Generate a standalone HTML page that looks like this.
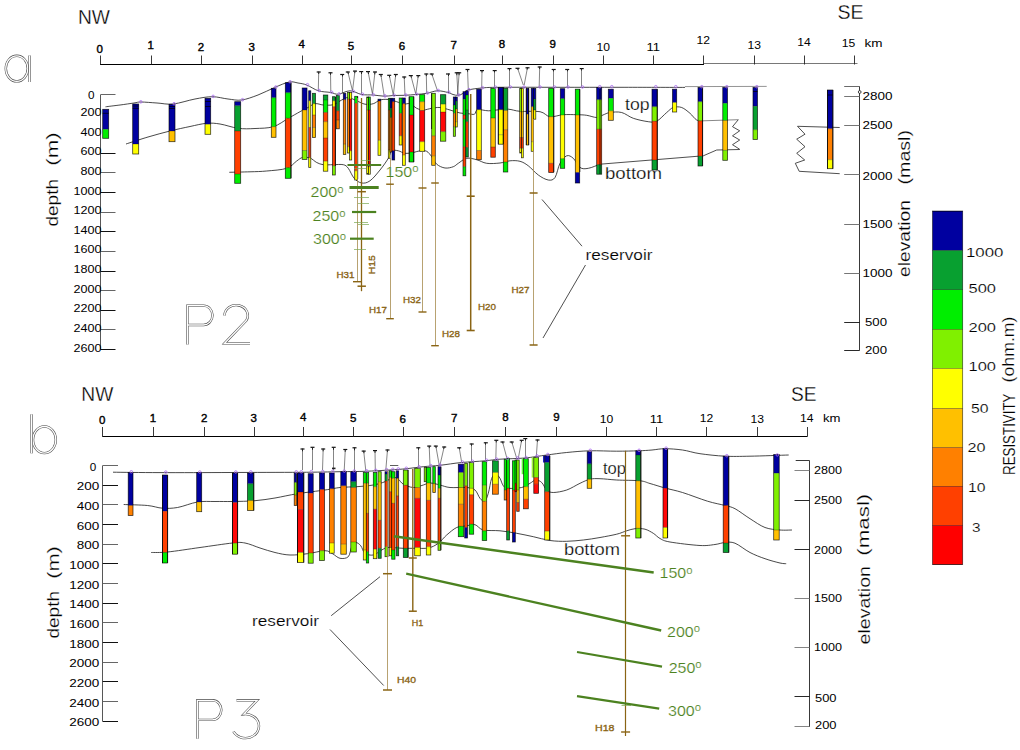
<!DOCTYPE html>
<html><head><meta charset="utf-8"><title>Resistivity cross-sections P2 and P3</title>
<style>
html,body{margin:0;padding:0;background:#fff;}
svg{display:block;font-family:"Liberation Sans",sans-serif;}
</style></head><body>
<svg width="1020" height="750" viewBox="0 0 1020 750">
<rect width="1020" height="750" fill="#fff"/>
<ellipse cx="16.8" cy="68.6" rx="11" ry="12.8" fill="none" stroke="#4a4a4a" stroke-width="2.4"/>
<ellipse cx="16.8" cy="68.6" rx="11" ry="12.8" fill="none" stroke="#fff" stroke-width="1.35"/>
<path d="M29.6 55.5V82" fill="none" stroke="#4a4a4a" stroke-width="2.4" stroke-linejoin="miter"/>
<path d="M29.6 55.5V82" fill="none" stroke="#fff" stroke-width="1.3499999999999999" stroke-linejoin="miter"/>
<text x="78.0" y="24.3" font-size="21" text-anchor="start" fill="#000" stroke="#fff" stroke-width="0.3" textLength="32.0" lengthAdjust="spacingAndGlyphs">NW</text>
<text x="837.5" y="19.2" font-size="21" text-anchor="start" fill="#000" stroke="#fff" stroke-width="0.3" textLength="26.0" lengthAdjust="spacingAndGlyphs">SE</text>
<line x1="100.0" y1="64.5" x2="704.0" y2="64.5" stroke="#000" stroke-width="1.1"/>
<line x1="704.0" y1="63.5" x2="857.5" y2="63.5" stroke="#555" stroke-width="0.8"/>
<line x1="100.5" y1="55.5" x2="100.5" y2="64.5" stroke="#222" stroke-width="0.9"/>
<text x="99.8" y="52.5" font-size="11.5" text-anchor="middle" fill="#000" stroke="#000" stroke-width="0.4">0</text>
<line x1="151.5" y1="55.5" x2="151.5" y2="64.5" stroke="#222" stroke-width="0.9"/>
<text x="150.8" y="49.0" font-size="11.5" text-anchor="middle" fill="#000" stroke="#000" stroke-width="0.4">1</text>
<line x1="201.5" y1="55.5" x2="201.5" y2="64.5" stroke="#222" stroke-width="0.9"/>
<text x="201.0" y="50.5" font-size="11.5" text-anchor="middle" fill="#000" stroke="#000" stroke-width="0.4">2</text>
<line x1="252.5" y1="55.5" x2="252.5" y2="64.5" stroke="#222" stroke-width="0.9"/>
<text x="251.8" y="50.5" font-size="11.5" text-anchor="middle" fill="#000" stroke="#000" stroke-width="0.4">3</text>
<line x1="302.5" y1="55.5" x2="302.5" y2="64.5" stroke="#222" stroke-width="0.9"/>
<text x="301.7" y="48.0" font-size="11.5" text-anchor="middle" fill="#000" stroke="#000" stroke-width="0.4">4</text>
<line x1="351.5" y1="55.5" x2="351.5" y2="64.5" stroke="#222" stroke-width="0.9"/>
<text x="351.0" y="50.0" font-size="11.5" text-anchor="middle" fill="#000" stroke="#000" stroke-width="0.4">5</text>
<line x1="402.5" y1="55.5" x2="402.5" y2="64.5" stroke="#222" stroke-width="0.9"/>
<text x="402.0" y="50.0" font-size="11.5" text-anchor="middle" fill="#000" stroke="#000" stroke-width="0.4">6</text>
<line x1="454.5" y1="55.5" x2="454.5" y2="64.5" stroke="#222" stroke-width="0.9"/>
<text x="453.7" y="49.0" font-size="11.5" text-anchor="middle" fill="#000" stroke="#000" stroke-width="0.4">7</text>
<line x1="502.5" y1="55.5" x2="502.5" y2="64.5" stroke="#222" stroke-width="0.9"/>
<text x="502.0" y="48.0" font-size="11.5" text-anchor="middle" fill="#000" stroke="#000" stroke-width="0.4">8</text>
<line x1="553.5" y1="55.5" x2="553.5" y2="64.5" stroke="#222" stroke-width="0.9"/>
<text x="552.8" y="48.0" font-size="11.5" text-anchor="middle" fill="#000" stroke="#000" stroke-width="0.4">9</text>
<line x1="603.5" y1="55.5" x2="603.5" y2="64.5" stroke="#222" stroke-width="0.9"/>
<text x="603.2" y="51.0" font-size="11.5" text-anchor="middle" fill="#000" textLength="13.5" lengthAdjust="spacingAndGlyphs">10</text>
<line x1="653.5" y1="55.5" x2="653.5" y2="64.5" stroke="#222" stroke-width="0.9"/>
<text x="653.2" y="51.0" font-size="11.5" text-anchor="middle" fill="#000" textLength="13.5" lengthAdjust="spacingAndGlyphs">11</text>
<line x1="703.5" y1="55.5" x2="703.5" y2="64.5" stroke="#222" stroke-width="0.9"/>
<text x="703.2" y="44.0" font-size="11.5" text-anchor="middle" fill="#000" textLength="13.5" lengthAdjust="spacingAndGlyphs">12</text>
<line x1="754.5" y1="55.5" x2="754.5" y2="64.5" stroke="#222" stroke-width="0.9"/>
<text x="754.2" y="49.2" font-size="11.5" text-anchor="middle" fill="#000" textLength="13.5" lengthAdjust="spacingAndGlyphs">13</text>
<line x1="804.5" y1="55.5" x2="804.5" y2="64.5" stroke="#222" stroke-width="0.9"/>
<text x="804.0" y="46.3" font-size="11.5" text-anchor="middle" fill="#000" textLength="13.5" lengthAdjust="spacingAndGlyphs">14</text>
<line x1="854.5" y1="55.5" x2="854.5" y2="64.5" stroke="#222" stroke-width="0.9"/>
<text x="848.5" y="46.5" font-size="11.5" text-anchor="middle" fill="#000" textLength="13.5" lengthAdjust="spacingAndGlyphs">15</text>
<text x="864.5" y="46.5" font-size="11.5" text-anchor="start" fill="#000" textLength="18.0" lengthAdjust="spacingAndGlyphs">km</text>
<line x1="100.5" y1="94.5" x2="100.5" y2="349.8" stroke="#444" stroke-width="0.9"/>
<line x1="100.7" y1="94.5" x2="115.5" y2="94.5" stroke="#666" stroke-width="1.0"/>
<text x="94.5" y="98.7" font-size="11.7" text-anchor="end" fill="#000">0</text>
<text x="101.5" y="116.0" font-size="11.7" text-anchor="end" fill="#000" textLength="21.0" lengthAdjust="spacingAndGlyphs">200</text>
<text x="101.5" y="135.6" font-size="11.7" text-anchor="end" fill="#000" textLength="21.0" lengthAdjust="spacingAndGlyphs">400</text>
<line x1="100.7" y1="153.5" x2="115.5" y2="153.5" stroke="#111" stroke-width="1.0"/>
<text x="101.5" y="155.3" font-size="11.7" text-anchor="end" fill="#000" textLength="21.0" lengthAdjust="spacingAndGlyphs">600</text>
<line x1="100.7" y1="172.5" x2="115.5" y2="172.5" stroke="#666" stroke-width="1.0"/>
<text x="101.5" y="174.9" font-size="11.7" text-anchor="end" fill="#000" textLength="21.0" lengthAdjust="spacingAndGlyphs">800</text>
<line x1="100.7" y1="192.5" x2="115.5" y2="192.5" stroke="#111" stroke-width="1.0"/>
<text x="101.5" y="194.5" font-size="11.7" text-anchor="end" fill="#000" textLength="28.0" lengthAdjust="spacingAndGlyphs">1000</text>
<line x1="100.7" y1="212.5" x2="115.5" y2="212.5" stroke="#666" stroke-width="1.0"/>
<text x="101.5" y="214.1" font-size="11.7" text-anchor="end" fill="#000" textLength="28.0" lengthAdjust="spacingAndGlyphs">1200</text>
<line x1="100.7" y1="231.5" x2="115.5" y2="231.5" stroke="#111" stroke-width="1.0"/>
<text x="101.5" y="233.7" font-size="11.7" text-anchor="end" fill="#000" textLength="28.0" lengthAdjust="spacingAndGlyphs">1400</text>
<line x1="100.7" y1="251.5" x2="115.5" y2="251.5" stroke="#666" stroke-width="1.0"/>
<text x="101.5" y="253.4" font-size="11.7" text-anchor="end" fill="#000" textLength="28.0" lengthAdjust="spacingAndGlyphs">1600</text>
<line x1="100.7" y1="271.5" x2="115.5" y2="271.5" stroke="#111" stroke-width="1.0"/>
<text x="101.5" y="273.0" font-size="11.7" text-anchor="end" fill="#000" textLength="28.0" lengthAdjust="spacingAndGlyphs">1800</text>
<line x1="100.7" y1="290.5" x2="115.5" y2="290.5" stroke="#666" stroke-width="1.0"/>
<text x="101.5" y="292.6" font-size="11.7" text-anchor="end" fill="#000" textLength="28.0" lengthAdjust="spacingAndGlyphs">2000</text>
<line x1="100.7" y1="310.5" x2="115.5" y2="310.5" stroke="#111" stroke-width="1.0"/>
<text x="101.5" y="312.2" font-size="11.7" text-anchor="end" fill="#000" textLength="28.0" lengthAdjust="spacingAndGlyphs">2200</text>
<line x1="100.7" y1="329.5" x2="115.5" y2="329.5" stroke="#666" stroke-width="1.0"/>
<text x="101.5" y="331.8" font-size="11.7" text-anchor="end" fill="#000" textLength="28.0" lengthAdjust="spacingAndGlyphs">2400</text>
<line x1="100.7" y1="349.5" x2="115.5" y2="349.5" stroke="#111" stroke-width="1.0"/>
<text x="101.5" y="351.5" font-size="11.7" text-anchor="end" fill="#000" textLength="28.0" lengthAdjust="spacingAndGlyphs">2600</text>
<text x="58.3" y="226.5" font-size="17" text-anchor="start" fill="#000" stroke="#fff" stroke-width="0.22" textLength="47.5" lengthAdjust="spacingAndGlyphs" transform="rotate(-90 58.3 226.5)">depth</text>
<text x="58.3" y="165.8" font-size="17" text-anchor="start" fill="#000" stroke="#fff" stroke-width="0.22" textLength="33.5" lengthAdjust="spacingAndGlyphs" transform="rotate(-90 58.3 165.8)">(m)</text>
<line x1="859.5" y1="86.5" x2="859.5" y2="350.3" stroke="#222" stroke-width="0.9"/>
<line x1="844.2" y1="86.5" x2="859.7" y2="86.5" stroke="#444" stroke-width="0.8"/>
<line x1="844.2" y1="96.5" x2="859.7" y2="96.5" stroke="#666" stroke-width="0.9"/>
<text x="862.5" y="100.0" font-size="11.5" text-anchor="start" fill="#000" textLength="30.0" lengthAdjust="spacingAndGlyphs">2800</text>
<line x1="844.2" y1="125.5" x2="859.7" y2="125.5" stroke="#666" stroke-width="0.9"/>
<text x="862.5" y="129.1" font-size="11.5" text-anchor="start" fill="#000" textLength="30.0" lengthAdjust="spacingAndGlyphs">2500</text>
<line x1="844.2" y1="174.5" x2="859.7" y2="174.5" stroke="#666" stroke-width="0.9"/>
<text x="862.5" y="179.5" font-size="11.5" text-anchor="start" fill="#000" textLength="30.0" lengthAdjust="spacingAndGlyphs">2000</text>
<line x1="844.2" y1="224.5" x2="859.7" y2="224.5" stroke="#666" stroke-width="0.9"/>
<text x="862.5" y="227.8" font-size="11.5" text-anchor="start" fill="#000" textLength="30.0" lengthAdjust="spacingAndGlyphs">1500</text>
<line x1="844.2" y1="273.5" x2="859.7" y2="273.5" stroke="#666" stroke-width="0.9"/>
<text x="862.5" y="277.3" font-size="11.5" text-anchor="start" fill="#000" textLength="30.0" lengthAdjust="spacingAndGlyphs">1000</text>
<line x1="844.2" y1="322.5" x2="859.7" y2="322.5" stroke="#111" stroke-width="0.9"/>
<text x="865.0" y="326.3" font-size="11.5" text-anchor="start" fill="#000" textLength="22.0" lengthAdjust="spacingAndGlyphs">500</text>
<line x1="844.2" y1="350.5" x2="859.7" y2="350.5" stroke="#111" stroke-width="0.9"/>
<text x="865.0" y="353.8" font-size="11.5" text-anchor="start" fill="#000" textLength="22.0" lengthAdjust="spacingAndGlyphs">200</text>
<circle cx="859.7" cy="92" r="1.4" fill="#fff" stroke="#000" stroke-width="0.7"/>
<text x="910.0" y="277.0" font-size="17" text-anchor="start" fill="#000" stroke="#fff" stroke-width="0.22" textLength="77.0" lengthAdjust="spacingAndGlyphs" transform="rotate(-90 910.0 277.0)">elevation</text>
<text x="910.0" y="184.5" font-size="17" text-anchor="start" fill="#000" stroke="#fff" stroke-width="0.22" textLength="54.5" lengthAdjust="spacingAndGlyphs" transform="rotate(-90 910.0 184.5)">(masl)</text>
<path d="M105.5 106.8C107.9 106.5 115.2 105.6 120.0 105.0C124.8 104.4 130.5 103.5 134.0 103.0C137.5 102.5 137.2 102.0 141.0 102.0C144.8 102.0 151.6 102.7 157.0 103.0C162.4 103.3 167.0 104.7 173.3 104.0C179.6 103.3 188.5 100.2 195.0 99.0C201.5 97.8 206.8 96.7 212.3 96.7C217.8 96.7 223.1 98.5 228.0 99.0C232.9 99.5 236.7 100.7 241.7 100.0C246.7 99.3 252.4 97.1 258.0 95.0C263.6 92.9 269.8 89.5 275.0 87.3C280.2 85.1 285.5 82.7 289.3 82.0C293.1 81.3 295.1 82.5 298.0 83.0C300.9 83.5 303.3 83.7 306.7 85.0C310.1 86.3 314.3 89.5 318.3 90.8C322.3 92.0 327.5 91.9 330.8 92.5C334.1 93.1 335.1 94.5 338.3 94.2C341.5 93.9 346.1 90.8 350.0 90.8C353.9 90.8 357.8 93.8 361.7 94.5C365.6 95.2 369.6 94.7 373.3 95.0C377.1 95.3 380.9 96.1 384.2 96.2C387.5 96.3 389.8 95.7 393.3 95.5C396.8 95.3 401.2 95.5 405.0 95.3C408.8 95.1 412.2 94.8 415.8 94.5C419.4 94.2 423.1 93.9 426.7 93.3C430.3 92.7 433.9 90.9 437.5 90.8C441.1 90.7 445.4 91.9 448.0 92.5C450.6 93.1 451.3 94.0 453.0 94.5C454.7 95.0 456.6 95.5 458.3 95.3C460.0 95.1 461.6 94.2 463.3 93.3C465.0 92.4 465.2 90.9 468.3 90.0C471.4 89.1 476.4 88.5 481.7 88.0C487.0 87.5 486.9 87.4 500.0 87.3C513.0 87.2 540.0 87.3 560.0 87.3C580.0 87.3 599.2 87.3 620.0 87.3C640.8 87.3 674.2 87.4 685.0 87.4" fill="none" stroke="#1a1a1a" stroke-width="0.8"/>
<line x1="685.0" y1="86.6" x2="766.7" y2="86.4" stroke="#666" stroke-width="0.7"/>
<path d="M126.0 144.0C129.7 142.8 140.7 139.2 148.0 137.0C155.3 134.8 163.0 132.8 170.0 131.0C177.0 129.2 183.9 127.8 190.0 126.5C196.1 125.2 201.7 123.7 206.7 123.3C211.7 122.9 214.7 123.2 220.0 124.0C225.3 124.8 232.5 127.6 238.3 128.3C244.1 129.1 249.2 128.8 255.0 128.5C260.8 128.2 267.8 128.4 273.3 126.7C278.9 125.0 283.9 120.8 288.3 118.3C292.8 115.8 296.9 113.4 300.0 111.7C303.1 110.0 304.2 109.6 306.7 108.3C309.2 107.0 312.2 104.2 315.0 103.7C317.8 103.2 320.2 104.8 323.3 105.0C326.4 105.2 330.2 105.5 333.3 104.7C336.4 103.9 339.2 101.2 341.7 100.0C344.2 98.8 345.8 97.4 348.3 97.5C350.8 97.6 353.9 99.7 356.7 100.8C359.5 101.9 362.2 103.7 365.0 104.2C367.8 104.7 370.8 104.4 373.3 103.7C375.8 103.0 377.6 100.7 380.0 100.0C382.4 99.3 385.2 99.2 388.0 99.5C390.8 99.8 394.1 100.9 396.7 101.7C399.2 102.5 401.1 103.9 403.3 104.2C405.5 104.5 407.8 103.0 410.0 103.7C412.2 104.4 414.5 107.2 416.7 108.3C418.9 109.3 420.8 110.0 423.3 110.0C425.8 110.0 428.9 108.7 431.7 108.3C434.5 107.9 436.9 107.2 440.0 107.5C443.1 107.8 446.7 109.1 450.0 110.0C453.3 110.9 456.9 112.4 460.0 113.0C463.1 113.6 465.9 113.5 468.3 113.7C470.7 113.9 473.0 114.9 474.5 114.2C476.0 113.5 475.2 110.3 477.5 109.7C479.8 109.1 485.1 110.8 488.3 110.8C491.5 110.8 493.4 110.3 496.7 110.0C500.0 109.7 504.4 109.0 508.3 109.2C512.2 109.4 514.7 110.9 520.0 111.3C525.3 111.7 535.0 110.8 540.0 111.7C545.0 112.6 546.1 116.2 550.0 116.7C553.9 117.2 558.8 115.0 563.3 114.7C567.8 114.4 572.8 114.6 576.7 114.7C580.6 114.8 583.4 114.8 586.7 115.3C590.0 115.8 594.0 117.5 596.7 117.5C599.4 117.5 600.8 115.8 603.0 115.0C605.2 114.2 606.9 112.9 610.0 112.5C613.1 112.1 617.8 111.5 621.7 112.5C625.6 113.5 628.9 116.8 633.3 118.3C637.7 119.8 644.4 121.2 648.3 121.7C652.2 122.2 653.6 122.7 656.7 121.2C659.8 119.7 663.9 114.8 666.7 112.5C669.5 110.2 670.8 108.3 673.3 107.5C675.8 106.7 678.9 106.5 681.7 107.5C684.5 108.5 687.5 111.2 690.0 113.3C692.5 115.4 694.5 118.8 696.7 120.0C698.9 121.2 702.2 120.7 703.3 120.8" fill="none" stroke="#1a1a1a" stroke-width="0.8"/>
<line x1="703.3" y1="120.8" x2="738.3" y2="119.7" stroke="#555" stroke-width="0.7"/>
<path d="M229.3 172.3C232.8 172.2 243.8 172.0 250.0 171.8C256.2 171.6 260.6 171.6 266.7 171.0C272.8 170.4 281.7 170.0 286.7 168.3C291.7 166.6 294.1 162.8 296.7 161.0C299.3 159.2 300.3 158.0 302.5 157.5C304.7 157.0 307.6 157.2 310.0 158.0C312.4 158.8 314.5 161.4 316.7 162.5C318.9 163.6 320.6 164.3 323.3 164.7C326.0 165.1 329.7 164.7 333.0 164.7C336.3 164.7 340.8 164.1 343.3 164.7C345.9 165.3 346.5 166.0 348.3 168.3C350.1 170.6 352.0 175.9 354.2 178.3C356.4 180.8 359.1 182.6 361.7 183.0C364.3 183.4 366.9 183.0 370.0 180.8C373.1 178.6 376.9 173.8 380.0 170.0C383.1 166.2 386.4 161.5 388.3 158.3C390.2 155.1 390.0 152.1 391.7 150.8C393.4 149.6 396.1 150.4 398.3 150.8C400.5 151.2 402.5 153.0 405.0 153.3C407.5 153.6 410.8 152.9 413.3 152.5C415.8 152.1 417.8 151.0 420.0 150.8C422.2 150.6 424.8 150.3 426.7 151.3C428.6 152.3 430.0 154.5 431.7 156.7C433.4 158.8 434.5 162.3 436.7 164.2C438.9 166.1 442.2 167.6 445.0 168.0C447.8 168.4 451.1 167.5 453.3 166.7C455.5 165.9 456.1 164.7 458.3 163.3C460.5 161.9 463.6 158.9 466.7 158.3C469.8 157.7 473.4 158.9 476.7 159.7C480.0 160.5 482.8 162.8 486.7 163.3C490.6 163.9 496.1 163.4 500.0 163.0C503.9 162.6 506.7 161.1 510.0 160.8C513.3 160.5 517.0 160.5 520.0 161.3C523.0 162.1 525.2 163.5 528.3 165.8C531.3 168.1 535.0 172.6 538.3 175.0C541.6 177.4 545.5 179.6 548.3 180.0C551.1 180.4 553.0 180.3 555.0 177.5C557.0 174.7 558.0 166.9 560.0 163.3C562.0 159.7 564.5 156.6 566.7 155.8C568.9 155.0 571.1 156.4 573.3 158.3C575.5 160.2 577.5 165.8 580.0 167.5C582.5 169.2 585.0 168.9 588.3 168.3C591.6 167.8 598.0 164.9 600.0 164.2" fill="none" stroke="#1a1a1a" stroke-width="0.8"/>
<path d="M600 164.2L703.3 155.8L716.7 150L739.7 149.5" fill="none" stroke="#222" stroke-width="0.8"/>
<path d="M738.3 119.7L732.5 126.7L739.7 130.8L732.5 135.8L739.7 140L732.5 144.7L739.7 149.3" fill="none" stroke="#222" stroke-width="0.8"/>
<path d="M839.7 127.5L797.5 126.3L805 134.2L796.7 139.2L805 146.7L796.7 153.3L804.7 160L795.3 163.3L799.2 171.3L839.7 173.7" fill="none" stroke="#222" stroke-width="0.8"/>
<rect x="102.7" y="109.3" width="6.0" height="20.0" fill="#0000a0"/><rect x="102.7" y="129.3" width="6.0" height="9.0" fill="#00ee00"/><rect x="102.7" y="109.3" width="6.0" height="29.0" fill="none" stroke="#000" stroke-opacity="0.8" stroke-width="0.75"/><line x1="102.7" y1="129.3" x2="108.7" y2="129.3" stroke="#000" stroke-opacity="0.55" stroke-width="0.5"/>
<rect x="132.7" y="104.0" width="6.0" height="40.0" fill="#0000a0"/><rect x="132.7" y="144.0" width="6.0" height="10.0" fill="#ffff00"/><rect x="132.7" y="104.0" width="6.0" height="50.0" fill="none" stroke="#000" stroke-opacity="0.8" stroke-width="0.75"/><line x1="132.7" y1="144.0" x2="138.7" y2="144.0" stroke="#000" stroke-opacity="0.55" stroke-width="0.5"/>
<rect x="169.0" y="104.3" width="6.0" height="26.7" fill="#0000a0"/><rect x="169.0" y="131.0" width="6.0" height="10.7" fill="#ffc000"/><rect x="169.0" y="104.3" width="6.0" height="37.4" fill="none" stroke="#000" stroke-opacity="0.8" stroke-width="0.75"/><line x1="169.0" y1="131.0" x2="175.0" y2="131.0" stroke="#000" stroke-opacity="0.55" stroke-width="0.5"/>
<rect x="205.0" y="98.3" width="5.7" height="26.0" fill="#0000a0"/><rect x="205.0" y="124.3" width="5.7" height="10.0" fill="#ffff00"/><rect x="205.0" y="98.3" width="5.7" height="36.0" fill="none" stroke="#000" stroke-opacity="0.8" stroke-width="0.75"/><line x1="205.0" y1="124.3" x2="210.7" y2="124.3" stroke="#000" stroke-opacity="0.55" stroke-width="0.5"/>
<rect x="234.7" y="101.7" width="6.0" height="4.0" fill="#0000a0"/><rect x="234.7" y="105.7" width="6.0" height="25.3" fill="#08a030"/><rect x="234.7" y="131.0" width="6.0" height="43.0" fill="#ff4000"/><rect x="234.7" y="174.0" width="6.0" height="9.3" fill="#00ee00"/><rect x="234.7" y="101.7" width="6.0" height="81.6" fill="none" stroke="#000" stroke-opacity="0.8" stroke-width="0.75"/><line x1="234.7" y1="105.7" x2="240.7" y2="105.7" stroke="#000" stroke-opacity="0.55" stroke-width="0.5"/><line x1="234.7" y1="131.0" x2="240.7" y2="131.0" stroke="#000" stroke-opacity="0.55" stroke-width="0.5"/><line x1="234.7" y1="174.0" x2="240.7" y2="174.0" stroke="#000" stroke-opacity="0.55" stroke-width="0.5"/>
<rect x="271.3" y="88.3" width="4.7" height="9.4" fill="#0000a0"/><rect x="271.3" y="97.7" width="4.7" height="29.0" fill="#00ee00"/><rect x="271.3" y="126.7" width="4.7" height="10.6" fill="#ffc000"/><rect x="271.3" y="88.3" width="4.7" height="49.0" fill="none" stroke="#000" stroke-opacity="0.8" stroke-width="0.75"/><line x1="271.3" y1="97.7" x2="276.0" y2="97.7" stroke="#000" stroke-opacity="0.55" stroke-width="0.5"/><line x1="271.3" y1="126.7" x2="276.0" y2="126.7" stroke="#000" stroke-opacity="0.55" stroke-width="0.5"/>
<rect x="285.3" y="82.7" width="5.7" height="10.0" fill="#0000a0"/><rect x="285.3" y="92.7" width="5.7" height="25.6" fill="#00ee00"/><rect x="285.3" y="118.3" width="5.7" height="49.4" fill="#ff4000"/><rect x="285.3" y="167.7" width="5.7" height="10.6" fill="#00ee00"/><rect x="285.3" y="82.7" width="5.7" height="95.6" fill="none" stroke="#000" stroke-opacity="0.8" stroke-width="0.75"/><line x1="285.3" y1="92.7" x2="291.0" y2="92.7" stroke="#000" stroke-opacity="0.55" stroke-width="0.5"/><line x1="285.3" y1="118.3" x2="291.0" y2="118.3" stroke="#000" stroke-opacity="0.55" stroke-width="0.5"/><line x1="285.3" y1="167.7" x2="291.0" y2="167.7" stroke="#000" stroke-opacity="0.55" stroke-width="0.5"/>
<rect x="302.2" y="88.0" width="4.8" height="22.0" fill="#0000a0"/><rect x="302.2" y="110.0" width="4.8" height="40.5" fill="#ffc000"/><rect x="302.2" y="150.5" width="4.8" height="9.0" fill="#80f000"/><rect x="302.2" y="88.0" width="4.8" height="71.5" fill="none" stroke="#000" stroke-opacity="0.8" stroke-width="0.75"/><line x1="302.2" y1="110.0" x2="307.0" y2="110.0" stroke="#000" stroke-opacity="0.55" stroke-width="0.5"/><line x1="302.2" y1="150.5" x2="307.0" y2="150.5" stroke="#000" stroke-opacity="0.55" stroke-width="0.5"/>
<rect x="308.7" y="90.8" width="2.1" height="10.0" fill="#0000a0"/><rect x="308.7" y="100.8" width="2.1" height="26.7" fill="#ffff00"/><rect x="308.7" y="127.5" width="2.1" height="30.0" fill="#ff4000"/><rect x="308.7" y="157.5" width="2.1" height="10.0" fill="#ffff00"/><rect x="308.7" y="90.8" width="2.1" height="76.7" fill="none" stroke="#000" stroke-opacity="0.8" stroke-width="0.75"/><line x1="308.7" y1="100.8" x2="310.8" y2="100.8" stroke="#000" stroke-opacity="0.55" stroke-width="0.5"/><line x1="308.7" y1="127.5" x2="310.8" y2="127.5" stroke="#000" stroke-opacity="0.55" stroke-width="0.5"/><line x1="308.7" y1="157.5" x2="310.8" y2="157.5" stroke="#000" stroke-opacity="0.55" stroke-width="0.5"/>
<rect x="312.5" y="93.3" width="3.0" height="10.4" fill="#08a030"/><rect x="312.5" y="103.7" width="3.0" height="11.3" fill="#ffff00"/><rect x="312.5" y="115.0" width="3.0" height="12.5" fill="#ff8000"/><rect x="312.5" y="127.5" width="3.0" height="10.0" fill="#ffc000"/><rect x="312.5" y="93.3" width="3.0" height="44.2" fill="none" stroke="#000" stroke-opacity="0.8" stroke-width="0.75"/><line x1="312.5" y1="103.7" x2="315.5" y2="103.7" stroke="#000" stroke-opacity="0.55" stroke-width="0.5"/><line x1="312.5" y1="115.0" x2="315.5" y2="115.0" stroke="#000" stroke-opacity="0.55" stroke-width="0.5"/><line x1="312.5" y1="127.5" x2="315.5" y2="127.5" stroke="#000" stroke-opacity="0.55" stroke-width="0.5"/>
<rect x="323.3" y="95.0" width="4.5" height="5.0" fill="#08a030"/><rect x="323.3" y="100.0" width="4.5" height="12.5" fill="#00ee00"/><rect x="323.3" y="112.5" width="4.5" height="9.2" fill="#ff4000"/><rect x="323.3" y="121.7" width="4.5" height="16.3" fill="#ffc000"/><rect x="323.3" y="138.0" width="4.5" height="23.2" fill="#ff4000"/><rect x="323.3" y="161.2" width="4.5" height="10.0" fill="#ffff00"/><rect x="323.3" y="95.0" width="4.5" height="76.2" fill="none" stroke="#000" stroke-opacity="0.8" stroke-width="0.75"/><line x1="323.3" y1="100.0" x2="327.8" y2="100.0" stroke="#000" stroke-opacity="0.55" stroke-width="0.5"/><line x1="323.3" y1="112.5" x2="327.8" y2="112.5" stroke="#000" stroke-opacity="0.55" stroke-width="0.5"/><line x1="323.3" y1="121.7" x2="327.8" y2="121.7" stroke="#000" stroke-opacity="0.55" stroke-width="0.5"/><line x1="323.3" y1="138.0" x2="327.8" y2="138.0" stroke="#000" stroke-opacity="0.55" stroke-width="0.5"/><line x1="323.3" y1="161.2" x2="327.8" y2="161.2" stroke="#000" stroke-opacity="0.55" stroke-width="0.5"/>
<rect x="332.5" y="96.7" width="2.8" height="4.1" fill="#08a030"/><rect x="332.5" y="100.8" width="2.8" height="5.9" fill="#ffff00"/><rect x="332.5" y="106.7" width="2.8" height="59.1" fill="#ff4000"/><rect x="332.5" y="165.8" width="2.8" height="9.2" fill="#80f000"/><rect x="332.5" y="96.7" width="2.8" height="78.3" fill="none" stroke="#000" stroke-opacity="0.8" stroke-width="0.75"/><line x1="332.5" y1="100.8" x2="335.3" y2="100.8" stroke="#000" stroke-opacity="0.55" stroke-width="0.5"/><line x1="332.5" y1="106.7" x2="335.3" y2="106.7" stroke="#000" stroke-opacity="0.55" stroke-width="0.5"/><line x1="332.5" y1="165.8" x2="335.3" y2="165.8" stroke="#000" stroke-opacity="0.55" stroke-width="0.5"/>
<rect x="336.3" y="95.5" width="3.0" height="15.3" fill="#08a030"/><rect x="336.3" y="110.8" width="3.0" height="9.2" fill="#ff4000"/><rect x="336.3" y="120.0" width="3.0" height="8.8" fill="#ff8000"/><rect x="336.3" y="95.5" width="3.0" height="33.3" fill="none" stroke="#000" stroke-opacity="0.8" stroke-width="0.75"/><line x1="336.3" y1="110.8" x2="339.3" y2="110.8" stroke="#000" stroke-opacity="0.55" stroke-width="0.5"/><line x1="336.3" y1="120.0" x2="339.3" y2="120.0" stroke="#000" stroke-opacity="0.55" stroke-width="0.5"/>
<rect x="343.3" y="93.3" width="2.5" height="6.4" fill="#0000a0"/><rect x="343.3" y="99.7" width="2.5" height="44.5" fill="#ff8000"/><rect x="343.3" y="144.2" width="2.5" height="10.3" fill="#ffc000"/><rect x="343.3" y="93.3" width="2.5" height="61.2" fill="none" stroke="#000" stroke-opacity="0.8" stroke-width="0.75"/><line x1="343.3" y1="99.7" x2="345.8" y2="99.7" stroke="#000" stroke-opacity="0.55" stroke-width="0.5"/><line x1="343.3" y1="144.2" x2="345.8" y2="144.2" stroke="#000" stroke-opacity="0.55" stroke-width="0.5"/>
<rect x="347.5" y="92.5" width="2.1" height="6.5" fill="#80f000"/><rect x="347.5" y="99.0" width="2.1" height="47.7" fill="#ff8000"/><rect x="347.5" y="146.7" width="2.1" height="6.3" fill="#ffff00"/><rect x="347.5" y="92.5" width="2.1" height="60.5" fill="none" stroke="#000" stroke-opacity="0.8" stroke-width="0.75"/><line x1="347.5" y1="99.0" x2="349.6" y2="99.0" stroke="#000" stroke-opacity="0.55" stroke-width="0.5"/><line x1="347.5" y1="146.7" x2="349.6" y2="146.7" stroke="#000" stroke-opacity="0.55" stroke-width="0.5"/>
<rect x="349.6" y="92.5" width="2.1" height="6.5" fill="#ffff00"/><rect x="349.6" y="99.0" width="2.1" height="51.8" fill="#ff0808"/><rect x="349.6" y="150.8" width="2.1" height="9.2" fill="#ffff00"/><rect x="349.6" y="92.5" width="2.1" height="67.5" fill="none" stroke="#000" stroke-opacity="0.8" stroke-width="0.75"/><line x1="349.6" y1="99.0" x2="351.7" y2="99.0" stroke="#000" stroke-opacity="0.55" stroke-width="0.5"/><line x1="349.6" y1="150.8" x2="351.7" y2="150.8" stroke="#000" stroke-opacity="0.55" stroke-width="0.5"/>
<rect x="354.7" y="96.3" width="2.8" height="7.0" fill="#00ee00"/><rect x="354.7" y="103.3" width="2.8" height="67.5" fill="#ff4000"/><rect x="354.7" y="170.8" width="2.8" height="9.2" fill="#ffff00"/><rect x="354.7" y="96.3" width="2.8" height="83.7" fill="none" stroke="#000" stroke-opacity="0.8" stroke-width="0.75"/><line x1="354.7" y1="103.3" x2="357.5" y2="103.3" stroke="#000" stroke-opacity="0.55" stroke-width="0.5"/><line x1="354.7" y1="170.8" x2="357.5" y2="170.8" stroke="#000" stroke-opacity="0.55" stroke-width="0.5"/>
<rect x="366.7" y="97.0" width="1.8" height="13.0" fill="#80f000"/><rect x="366.7" y="110.0" width="1.8" height="56.7" fill="#ffc000"/><rect x="366.7" y="166.7" width="1.8" height="7.5" fill="#ffff00"/><rect x="366.7" y="97.0" width="1.8" height="77.2" fill="none" stroke="#000" stroke-opacity="0.8" stroke-width="0.75"/><line x1="366.7" y1="110.0" x2="368.5" y2="110.0" stroke="#000" stroke-opacity="0.55" stroke-width="0.5"/><line x1="366.7" y1="166.7" x2="368.5" y2="166.7" stroke="#000" stroke-opacity="0.55" stroke-width="0.5"/>
<rect x="368.5" y="97.0" width="1.8" height="13.0" fill="#00ee00"/><rect x="368.5" y="110.0" width="1.8" height="56.7" fill="#ff0808"/><rect x="368.5" y="166.7" width="1.8" height="7.5" fill="#ffff00"/><rect x="368.5" y="97.0" width="1.8" height="77.2" fill="none" stroke="#000" stroke-opacity="0.8" stroke-width="0.75"/><line x1="368.5" y1="110.0" x2="370.3" y2="110.0" stroke="#000" stroke-opacity="0.55" stroke-width="0.5"/><line x1="368.5" y1="166.7" x2="370.3" y2="166.7" stroke="#000" stroke-opacity="0.55" stroke-width="0.5"/>
<rect x="378.0" y="99.2" width="2.8" height="1.8" fill="#0000a0"/><rect x="378.0" y="101.0" width="2.8" height="39.3" fill="#ff8000"/><rect x="378.0" y="140.3" width="2.8" height="15.0" fill="#ffff00"/><rect x="378.0" y="99.2" width="2.8" height="56.1" fill="none" stroke="#000" stroke-opacity="0.8" stroke-width="0.75"/><line x1="378.0" y1="101.0" x2="380.8" y2="101.0" stroke="#000" stroke-opacity="0.55" stroke-width="0.5"/><line x1="378.0" y1="140.3" x2="380.8" y2="140.3" stroke="#000" stroke-opacity="0.55" stroke-width="0.5"/>
<rect x="388.3" y="98.3" width="1.7" height="11.7" fill="#00ee00"/><rect x="388.3" y="110.0" width="1.7" height="40.0" fill="#ff8000"/><rect x="388.3" y="150.0" width="1.7" height="8.3" fill="#ffff00"/><rect x="388.3" y="98.3" width="1.7" height="60.0" fill="none" stroke="#000" stroke-opacity="0.8" stroke-width="0.75"/><line x1="388.3" y1="110.0" x2="390.0" y2="110.0" stroke="#000" stroke-opacity="0.55" stroke-width="0.5"/><line x1="388.3" y1="150.0" x2="390.0" y2="150.0" stroke="#000" stroke-opacity="0.55" stroke-width="0.5"/>
<rect x="390.0" y="98.3" width="2.0" height="10.0" fill="#0000a0"/><rect x="390.0" y="108.3" width="2.0" height="9.2" fill="#08a030"/><rect x="390.0" y="117.5" width="2.0" height="34.5" fill="#ff8000"/><rect x="390.0" y="98.3" width="2.0" height="53.7" fill="none" stroke="#000" stroke-opacity="0.8" stroke-width="0.75"/><line x1="390.0" y1="108.3" x2="392.0" y2="108.3" stroke="#000" stroke-opacity="0.55" stroke-width="0.5"/><line x1="390.0" y1="117.5" x2="392.0" y2="117.5" stroke="#000" stroke-opacity="0.55" stroke-width="0.5"/>
<rect x="392.0" y="98.3" width="2.7" height="3.4" fill="#0000a0"/><rect x="392.0" y="101.7" width="2.7" height="49.1" fill="#ff4000"/><rect x="392.0" y="150.8" width="2.7" height="9.2" fill="#0000a0"/><rect x="392.0" y="98.3" width="2.7" height="61.7" fill="none" stroke="#000" stroke-opacity="0.8" stroke-width="0.75"/><line x1="392.0" y1="101.7" x2="394.7" y2="101.7" stroke="#000" stroke-opacity="0.55" stroke-width="0.5"/><line x1="392.0" y1="150.8" x2="394.7" y2="150.8" stroke="#000" stroke-opacity="0.55" stroke-width="0.5"/>
<rect x="399.2" y="98.0" width="2.8" height="15.3" fill="#00ee00"/><rect x="399.2" y="113.3" width="2.8" height="22.5" fill="#ff4000"/><rect x="399.2" y="135.8" width="2.8" height="9.2" fill="#ffff00"/><rect x="399.2" y="98.0" width="2.8" height="47.0" fill="none" stroke="#000" stroke-opacity="0.8" stroke-width="0.75"/><line x1="399.2" y1="113.3" x2="402.0" y2="113.3" stroke="#000" stroke-opacity="0.55" stroke-width="0.5"/><line x1="399.2" y1="135.8" x2="402.0" y2="135.8" stroke="#000" stroke-opacity="0.55" stroke-width="0.5"/>
<rect x="402.5" y="98.0" width="2.8" height="5.7" fill="#0000a0"/><rect x="402.5" y="103.7" width="2.8" height="51.3" fill="#ff8000"/><rect x="402.5" y="155.0" width="2.8" height="10.3" fill="#ffff00"/><rect x="402.5" y="98.0" width="2.8" height="67.3" fill="none" stroke="#000" stroke-opacity="0.8" stroke-width="0.75"/><line x1="402.5" y1="103.7" x2="405.3" y2="103.7" stroke="#000" stroke-opacity="0.55" stroke-width="0.5"/><line x1="402.5" y1="155.0" x2="405.3" y2="155.0" stroke="#000" stroke-opacity="0.55" stroke-width="0.5"/>
<rect x="409.2" y="96.7" width="4.5" height="18.3" fill="#00ee00"/><rect x="409.2" y="115.0" width="4.5" height="37.0" fill="#ff0808"/><rect x="409.2" y="152.0" width="4.5" height="10.0" fill="#00ee00"/><rect x="409.2" y="96.7" width="4.5" height="65.3" fill="none" stroke="#000" stroke-opacity="0.8" stroke-width="0.75"/><line x1="409.2" y1="115.0" x2="413.7" y2="115.0" stroke="#000" stroke-opacity="0.55" stroke-width="0.5"/><line x1="409.2" y1="152.0" x2="413.7" y2="152.0" stroke="#000" stroke-opacity="0.55" stroke-width="0.5"/>
<rect x="419.7" y="94.7" width="5.0" height="7.0" fill="#00ee00"/><rect x="419.7" y="101.7" width="5.0" height="8.8" fill="#ffc000"/><rect x="419.7" y="110.5" width="5.0" height="31.2" fill="#ff0808"/><rect x="419.7" y="141.7" width="5.0" height="9.6" fill="#ffff00"/><rect x="419.7" y="94.7" width="5.0" height="56.6" fill="none" stroke="#000" stroke-opacity="0.8" stroke-width="0.75"/><line x1="419.7" y1="101.7" x2="424.7" y2="101.7" stroke="#000" stroke-opacity="0.55" stroke-width="0.5"/><line x1="419.7" y1="110.5" x2="424.7" y2="110.5" stroke="#000" stroke-opacity="0.55" stroke-width="0.5"/><line x1="419.7" y1="141.7" x2="424.7" y2="141.7" stroke="#000" stroke-opacity="0.55" stroke-width="0.5"/>
<rect x="431.7" y="93.3" width="3.6" height="42.5" fill="#80f000"/><rect x="431.7" y="135.8" width="3.6" height="20.0" fill="#ff8000"/><rect x="431.7" y="155.8" width="3.6" height="9.5" fill="#ffc000"/><rect x="431.7" y="93.3" width="3.6" height="72.0" fill="none" stroke="#000" stroke-opacity="0.8" stroke-width="0.75"/><line x1="431.7" y1="135.8" x2="435.3" y2="135.8" stroke="#000" stroke-opacity="0.55" stroke-width="0.5"/><line x1="431.7" y1="155.8" x2="435.3" y2="155.8" stroke="#000" stroke-opacity="0.55" stroke-width="0.5"/>
<rect x="440.5" y="94.7" width="5.3" height="9.5" fill="#08a030"/><rect x="440.5" y="104.2" width="5.3" height="7.8" fill="#ffff00"/><rect x="440.5" y="112.0" width="5.3" height="19.7" fill="#ff0808"/><rect x="440.5" y="131.7" width="5.3" height="9.5" fill="#80f000"/><rect x="440.5" y="94.7" width="5.3" height="46.5" fill="none" stroke="#000" stroke-opacity="0.8" stroke-width="0.75"/><line x1="440.5" y1="104.2" x2="445.8" y2="104.2" stroke="#000" stroke-opacity="0.55" stroke-width="0.5"/><line x1="440.5" y1="112.0" x2="445.8" y2="112.0" stroke="#000" stroke-opacity="0.55" stroke-width="0.5"/><line x1="440.5" y1="131.7" x2="445.8" y2="131.7" stroke="#000" stroke-opacity="0.55" stroke-width="0.5"/>
<rect x="453.3" y="97.0" width="2.1" height="8.0" fill="#0000a0"/><rect x="453.3" y="105.0" width="2.1" height="8.3" fill="#00ee00"/><rect x="453.3" y="113.3" width="2.1" height="13.4" fill="#ff8000"/><rect x="453.3" y="126.7" width="2.1" height="9.6" fill="#80f000"/><rect x="453.3" y="97.0" width="2.1" height="39.3" fill="none" stroke="#000" stroke-opacity="0.8" stroke-width="0.75"/><line x1="453.3" y1="105.0" x2="455.4" y2="105.0" stroke="#000" stroke-opacity="0.55" stroke-width="0.5"/><line x1="453.3" y1="113.3" x2="455.4" y2="113.3" stroke="#000" stroke-opacity="0.55" stroke-width="0.5"/><line x1="453.3" y1="126.7" x2="455.4" y2="126.7" stroke="#000" stroke-opacity="0.55" stroke-width="0.5"/>
<rect x="455.4" y="97.0" width="1.9" height="4.0" fill="#0000a0"/><rect x="455.4" y="101.0" width="1.9" height="8.0" fill="#08a030"/><rect x="455.4" y="109.0" width="1.9" height="12.7" fill="#ffc000"/><rect x="455.4" y="121.7" width="1.9" height="5.3" fill="#ffff00"/><rect x="455.4" y="97.0" width="1.9" height="30.0" fill="none" stroke="#000" stroke-opacity="0.8" stroke-width="0.75"/><line x1="455.4" y1="101.0" x2="457.3" y2="101.0" stroke="#000" stroke-opacity="0.55" stroke-width="0.5"/><line x1="455.4" y1="109.0" x2="457.3" y2="109.0" stroke="#000" stroke-opacity="0.55" stroke-width="0.5"/><line x1="455.4" y1="121.7" x2="457.3" y2="121.7" stroke="#000" stroke-opacity="0.55" stroke-width="0.5"/>
<rect x="463.0" y="91.7" width="2.8" height="7.5" fill="#0000a0"/><rect x="463.0" y="99.2" width="2.8" height="15.8" fill="#00ee00"/><rect x="463.0" y="115.0" width="2.8" height="4.2" fill="#ff4000"/><rect x="463.0" y="119.2" width="2.8" height="27.5" fill="#00ee00"/><rect x="463.0" y="146.7" width="2.8" height="20.0" fill="#ff4000"/><rect x="463.0" y="166.7" width="2.8" height="9.1" fill="#00ee00"/><rect x="463.0" y="91.7" width="2.8" height="84.1" fill="none" stroke="#000" stroke-opacity="0.8" stroke-width="0.75"/><line x1="463.0" y1="99.2" x2="465.8" y2="99.2" stroke="#000" stroke-opacity="0.55" stroke-width="0.5"/><line x1="463.0" y1="115.0" x2="465.8" y2="115.0" stroke="#000" stroke-opacity="0.55" stroke-width="0.5"/><line x1="463.0" y1="119.2" x2="465.8" y2="119.2" stroke="#000" stroke-opacity="0.55" stroke-width="0.5"/><line x1="463.0" y1="146.7" x2="465.8" y2="146.7" stroke="#000" stroke-opacity="0.55" stroke-width="0.5"/><line x1="463.0" y1="166.7" x2="465.8" y2="166.7" stroke="#000" stroke-opacity="0.55" stroke-width="0.5"/>
<rect x="465.8" y="90.8" width="2.5" height="4.2" fill="#0000a0"/><rect x="465.8" y="95.0" width="2.5" height="15.0" fill="#00ee00"/><rect x="465.8" y="110.0" width="2.5" height="11.7" fill="#08a030"/><rect x="465.8" y="121.7" width="2.5" height="25.8" fill="#ff4000"/><rect x="465.8" y="147.5" width="2.5" height="9.5" fill="#08a030"/><rect x="465.8" y="90.8" width="2.5" height="66.2" fill="none" stroke="#000" stroke-opacity="0.8" stroke-width="0.75"/><line x1="465.8" y1="95.0" x2="468.3" y2="95.0" stroke="#000" stroke-opacity="0.55" stroke-width="0.5"/><line x1="465.8" y1="110.0" x2="468.3" y2="110.0" stroke="#000" stroke-opacity="0.55" stroke-width="0.5"/><line x1="465.8" y1="121.7" x2="468.3" y2="121.7" stroke="#000" stroke-opacity="0.55" stroke-width="0.5"/><line x1="465.8" y1="147.5" x2="468.3" y2="147.5" stroke="#000" stroke-opacity="0.55" stroke-width="0.5"/>
<rect x="476.7" y="89.2" width="4.6" height="20.5" fill="#0000a0"/><rect x="476.7" y="109.7" width="4.6" height="40.8" fill="#ffff00"/><rect x="476.7" y="150.5" width="4.6" height="9.2" fill="#ff8000"/><rect x="476.7" y="89.2" width="4.6" height="70.5" fill="none" stroke="#000" stroke-opacity="0.8" stroke-width="0.75"/><line x1="476.7" y1="109.7" x2="481.3" y2="109.7" stroke="#000" stroke-opacity="0.55" stroke-width="0.5"/><line x1="476.7" y1="150.5" x2="481.3" y2="150.5" stroke="#000" stroke-opacity="0.55" stroke-width="0.5"/>
<rect x="490.8" y="88.3" width="4.5" height="29.7" fill="#00ee00"/><rect x="490.8" y="118.0" width="4.5" height="29.0" fill="#ffc000"/><rect x="490.8" y="147.0" width="4.5" height="10.2" fill="#ff4000"/><rect x="490.8" y="88.3" width="4.5" height="68.9" fill="none" stroke="#000" stroke-opacity="0.8" stroke-width="0.75"/><line x1="490.8" y1="118.0" x2="495.3" y2="118.0" stroke="#000" stroke-opacity="0.55" stroke-width="0.5"/><line x1="490.8" y1="147.0" x2="495.3" y2="147.0" stroke="#000" stroke-opacity="0.55" stroke-width="0.5"/>
<rect x="498.3" y="87.5" width="5.0" height="22.2" fill="#0000a0"/><rect x="498.3" y="109.7" width="5.0" height="25.0" fill="#ffff00"/><rect x="498.3" y="134.7" width="5.0" height="9.5" fill="#ffff00"/><rect x="498.3" y="87.5" width="5.0" height="56.7" fill="none" stroke="#000" stroke-opacity="0.8" stroke-width="0.75"/><line x1="498.3" y1="109.7" x2="503.3" y2="109.7" stroke="#000" stroke-opacity="0.55" stroke-width="0.5"/><line x1="498.3" y1="134.7" x2="503.3" y2="134.7" stroke="#000" stroke-opacity="0.55" stroke-width="0.5"/>
<rect x="503.3" y="88.3" width="4.5" height="22.2" fill="#08a030"/><rect x="503.3" y="110.5" width="4.5" height="19.2" fill="#ffc000"/><rect x="503.3" y="129.7" width="4.5" height="32.3" fill="#ff8000"/><rect x="503.3" y="162.0" width="4.5" height="10.0" fill="#00ee00"/><rect x="503.3" y="88.3" width="4.5" height="83.7" fill="none" stroke="#000" stroke-opacity="0.8" stroke-width="0.75"/><line x1="503.3" y1="110.5" x2="507.8" y2="110.5" stroke="#000" stroke-opacity="0.55" stroke-width="0.5"/><line x1="503.3" y1="129.7" x2="507.8" y2="129.7" stroke="#000" stroke-opacity="0.55" stroke-width="0.5"/><line x1="503.3" y1="162.0" x2="507.8" y2="162.0" stroke="#000" stroke-opacity="0.55" stroke-width="0.5"/>
<rect x="519.7" y="88.3" width="1.8" height="23.4" fill="#80f000"/><rect x="519.7" y="111.7" width="1.8" height="25.8" fill="#ffc000"/><rect x="519.7" y="137.5" width="1.8" height="10.8" fill="#ff4000"/><rect x="519.7" y="148.3" width="1.8" height="4.7" fill="#ffff00"/><rect x="519.7" y="88.3" width="1.8" height="64.7" fill="none" stroke="#000" stroke-opacity="0.8" stroke-width="0.75"/><line x1="519.7" y1="111.7" x2="521.5" y2="111.7" stroke="#000" stroke-opacity="0.55" stroke-width="0.5"/><line x1="519.7" y1="137.5" x2="521.5" y2="137.5" stroke="#000" stroke-opacity="0.55" stroke-width="0.5"/><line x1="519.7" y1="148.3" x2="521.5" y2="148.3" stroke="#000" stroke-opacity="0.55" stroke-width="0.5"/>
<rect x="521.5" y="88.3" width="1.8" height="23.4" fill="#ffff00"/><rect x="521.5" y="111.7" width="1.8" height="25.8" fill="#ffc000"/><rect x="521.5" y="137.5" width="1.8" height="10.8" fill="#ff4000"/><rect x="521.5" y="148.3" width="1.8" height="9.5" fill="#ffff00"/><rect x="521.5" y="88.3" width="1.8" height="69.5" fill="none" stroke="#000" stroke-opacity="0.8" stroke-width="0.75"/><line x1="521.5" y1="111.7" x2="523.3" y2="111.7" stroke="#000" stroke-opacity="0.55" stroke-width="0.5"/><line x1="521.5" y1="137.5" x2="523.3" y2="137.5" stroke="#000" stroke-opacity="0.55" stroke-width="0.5"/><line x1="521.5" y1="148.3" x2="523.3" y2="148.3" stroke="#000" stroke-opacity="0.55" stroke-width="0.5"/>
<rect x="526.3" y="88.3" width="2.4" height="25.9" fill="#0000a0"/><rect x="526.3" y="114.2" width="2.4" height="30.8" fill="#ffc000"/><rect x="526.3" y="88.3" width="2.4" height="56.7" fill="none" stroke="#000" stroke-opacity="0.8" stroke-width="0.75"/><line x1="526.3" y1="114.2" x2="528.7" y2="114.2" stroke="#000" stroke-opacity="0.55" stroke-width="0.5"/>
<rect x="531.2" y="88.3" width="2.2" height="18.4" fill="#0000a0"/><rect x="531.2" y="106.7" width="2.2" height="35.0" fill="#ffc000"/><rect x="531.2" y="141.7" width="2.2" height="9.6" fill="#ffff00"/><rect x="531.2" y="88.3" width="2.2" height="63.0" fill="none" stroke="#000" stroke-opacity="0.8" stroke-width="0.75"/><line x1="531.2" y1="106.7" x2="533.4" y2="106.7" stroke="#000" stroke-opacity="0.55" stroke-width="0.5"/><line x1="531.2" y1="141.7" x2="533.4" y2="141.7" stroke="#000" stroke-opacity="0.55" stroke-width="0.5"/>
<rect x="533.4" y="88.3" width="2.4" height="10.9" fill="#0000a0"/><rect x="533.4" y="99.2" width="2.4" height="10.8" fill="#08a030"/><rect x="533.4" y="110.0" width="2.4" height="9.2" fill="#ffff00"/><rect x="533.4" y="88.3" width="2.4" height="30.9" fill="none" stroke="#000" stroke-opacity="0.8" stroke-width="0.75"/><line x1="533.4" y1="99.2" x2="535.8" y2="99.2" stroke="#000" stroke-opacity="0.55" stroke-width="0.5"/><line x1="533.4" y1="110.0" x2="535.8" y2="110.0" stroke="#000" stroke-opacity="0.55" stroke-width="0.5"/>
<rect x="548.7" y="88.3" width="5.0" height="28.4" fill="#00ee00"/><rect x="548.7" y="116.7" width="5.0" height="46.6" fill="#ffc000"/><rect x="548.7" y="163.3" width="5.0" height="9.2" fill="#ff4000"/><rect x="548.7" y="88.3" width="5.0" height="84.2" fill="none" stroke="#000" stroke-opacity="0.8" stroke-width="0.75"/><line x1="548.7" y1="116.7" x2="553.7" y2="116.7" stroke="#000" stroke-opacity="0.55" stroke-width="0.5"/><line x1="548.7" y1="163.3" x2="553.7" y2="163.3" stroke="#000" stroke-opacity="0.55" stroke-width="0.5"/>
<rect x="560.3" y="88.7" width="4.4" height="10.0" fill="#0000a0"/><rect x="560.3" y="98.7" width="4.4" height="16.3" fill="#00ee00"/><rect x="560.3" y="115.0" width="4.4" height="43.7" fill="#ffff00"/><rect x="560.3" y="158.7" width="4.4" height="9.6" fill="#00ee00"/><rect x="560.3" y="88.7" width="4.4" height="79.6" fill="none" stroke="#000" stroke-opacity="0.8" stroke-width="0.75"/><line x1="560.3" y1="98.7" x2="564.7" y2="98.7" stroke="#000" stroke-opacity="0.55" stroke-width="0.5"/><line x1="560.3" y1="115.0" x2="564.7" y2="115.0" stroke="#000" stroke-opacity="0.55" stroke-width="0.5"/><line x1="560.3" y1="158.7" x2="564.7" y2="158.7" stroke="#000" stroke-opacity="0.55" stroke-width="0.5"/>
<rect x="575.3" y="89.2" width="4.4" height="25.8" fill="#00ee00"/><rect x="575.3" y="115.0" width="4.4" height="57.5" fill="#ffc000"/><rect x="575.3" y="172.5" width="4.4" height="10.5" fill="#0000a0"/><rect x="575.3" y="89.2" width="4.4" height="93.8" fill="none" stroke="#000" stroke-opacity="0.8" stroke-width="0.75"/><line x1="575.3" y1="115.0" x2="579.7" y2="115.0" stroke="#000" stroke-opacity="0.55" stroke-width="0.5"/><line x1="575.3" y1="172.5" x2="579.7" y2="172.5" stroke="#000" stroke-opacity="0.55" stroke-width="0.5"/>
<rect x="596.7" y="87.5" width="5.0" height="12.2" fill="#0000a0"/><rect x="596.7" y="99.7" width="5.0" height="29.5" fill="#80f000"/><rect x="596.7" y="129.2" width="5.0" height="35.5" fill="#ff4000"/><rect x="596.7" y="164.7" width="5.0" height="9.5" fill="#08a030"/><rect x="596.7" y="87.5" width="5.0" height="86.7" fill="none" stroke="#000" stroke-opacity="0.8" stroke-width="0.75"/><line x1="596.7" y1="99.7" x2="601.7" y2="99.7" stroke="#000" stroke-opacity="0.55" stroke-width="0.5"/><line x1="596.7" y1="129.2" x2="601.7" y2="129.2" stroke="#000" stroke-opacity="0.55" stroke-width="0.5"/><line x1="596.7" y1="164.7" x2="601.7" y2="164.7" stroke="#000" stroke-opacity="0.55" stroke-width="0.5"/>
<rect x="608.3" y="89.2" width="5.0" height="9.1" fill="#0000a0"/><rect x="608.3" y="98.3" width="5.0" height="12.5" fill="#00ee00"/><rect x="608.3" y="110.8" width="5.0" height="9.5" fill="#ffc000"/><rect x="608.3" y="89.2" width="5.0" height="31.1" fill="none" stroke="#000" stroke-opacity="0.8" stroke-width="0.75"/><line x1="608.3" y1="98.3" x2="613.3" y2="98.3" stroke="#000" stroke-opacity="0.55" stroke-width="0.5"/><line x1="608.3" y1="110.8" x2="613.3" y2="110.8" stroke="#000" stroke-opacity="0.55" stroke-width="0.5"/>
<rect x="652.0" y="89.2" width="5.2" height="17.5" fill="#0000a0"/><rect x="652.0" y="106.7" width="5.2" height="14.5" fill="#80f000"/><rect x="652.0" y="121.2" width="5.2" height="38.8" fill="#ff4000"/><rect x="652.0" y="160.0" width="5.2" height="10.0" fill="#08a030"/><rect x="652.0" y="89.2" width="5.2" height="80.8" fill="none" stroke="#000" stroke-opacity="0.8" stroke-width="0.75"/><line x1="652.0" y1="106.7" x2="657.2" y2="106.7" stroke="#000" stroke-opacity="0.55" stroke-width="0.5"/><line x1="652.0" y1="121.2" x2="657.2" y2="121.2" stroke="#000" stroke-opacity="0.55" stroke-width="0.5"/><line x1="652.0" y1="160.0" x2="657.2" y2="160.0" stroke="#000" stroke-opacity="0.55" stroke-width="0.5"/>
<rect x="672.5" y="89.2" width="4.2" height="13.3" fill="#0000a0"/><rect x="672.5" y="102.5" width="4.2" height="9.5" fill="#ffff00"/><rect x="672.5" y="89.2" width="4.2" height="22.8" fill="none" stroke="#000" stroke-opacity="0.8" stroke-width="0.75"/><line x1="672.5" y1="102.5" x2="676.7" y2="102.5" stroke="#000" stroke-opacity="0.55" stroke-width="0.5"/>
<rect x="698.0" y="87.5" width="4.5" height="14.2" fill="#0000a0"/><rect x="698.0" y="101.7" width="4.5" height="19.1" fill="#80f000"/><rect x="698.0" y="120.8" width="4.5" height="35.4" fill="#ff4000"/><rect x="698.0" y="156.2" width="4.5" height="9.8" fill="#08a030"/><rect x="698.0" y="87.5" width="4.5" height="78.5" fill="none" stroke="#000" stroke-opacity="0.8" stroke-width="0.75"/><line x1="698.0" y1="101.7" x2="702.5" y2="101.7" stroke="#000" stroke-opacity="0.55" stroke-width="0.5"/><line x1="698.0" y1="120.8" x2="702.5" y2="120.8" stroke="#000" stroke-opacity="0.55" stroke-width="0.5"/><line x1="698.0" y1="156.2" x2="702.5" y2="156.2" stroke="#000" stroke-opacity="0.55" stroke-width="0.5"/>
<rect x="722.8" y="87.5" width="4.7" height="15.8" fill="#0000a0"/><rect x="722.8" y="103.3" width="4.7" height="17.2" fill="#00ee00"/><rect x="722.8" y="120.5" width="4.7" height="29.8" fill="#ffc000"/><rect x="722.8" y="150.3" width="4.7" height="10.0" fill="#80f000"/><rect x="722.8" y="87.5" width="4.7" height="72.8" fill="none" stroke="#000" stroke-opacity="0.8" stroke-width="0.75"/><line x1="722.8" y1="103.3" x2="727.5" y2="103.3" stroke="#000" stroke-opacity="0.55" stroke-width="0.5"/><line x1="722.8" y1="120.5" x2="727.5" y2="120.5" stroke="#000" stroke-opacity="0.55" stroke-width="0.5"/><line x1="722.8" y1="150.3" x2="727.5" y2="150.3" stroke="#000" stroke-opacity="0.55" stroke-width="0.5"/>
<rect x="753.0" y="87.5" width="4.5" height="18.7" fill="#0000a0"/><rect x="753.0" y="106.2" width="4.5" height="23.5" fill="#08a030"/><rect x="753.0" y="129.7" width="4.5" height="9.8" fill="#80f000"/><rect x="753.0" y="87.5" width="4.5" height="52.0" fill="none" stroke="#000" stroke-opacity="0.8" stroke-width="0.75"/><line x1="753.0" y1="106.2" x2="757.5" y2="106.2" stroke="#000" stroke-opacity="0.55" stroke-width="0.5"/><line x1="753.0" y1="129.7" x2="757.5" y2="129.7" stroke="#000" stroke-opacity="0.55" stroke-width="0.5"/>
<rect x="827.5" y="90.0" width="5.3" height="38.7" fill="#0000a0"/><rect x="827.5" y="128.7" width="5.3" height="31.0" fill="#ff8000"/><rect x="827.5" y="159.7" width="5.3" height="9.0" fill="#ffff00"/><rect x="827.5" y="90.0" width="5.3" height="78.7" fill="none" stroke="#000" stroke-opacity="0.8" stroke-width="0.75"/><line x1="827.5" y1="128.7" x2="832.8" y2="128.7" stroke="#000" stroke-opacity="0.55" stroke-width="0.5"/><line x1="827.5" y1="159.7" x2="832.8" y2="159.7" stroke="#000" stroke-opacity="0.55" stroke-width="0.5"/>
<line x1="102.7" y1="113.3" x2="108.7" y2="113.3" stroke="#000" stroke-width="0.7"/>
<line x1="132.7" y1="106.0" x2="138.7" y2="106.0" stroke="#000" stroke-width="0.7"/>
<line x1="132.7" y1="108.3" x2="138.7" y2="108.3" stroke="#000" stroke-width="0.7"/>
<line x1="169.0" y1="106.5" x2="175.0" y2="106.5" stroke="#000" stroke-width="0.7"/>
<line x1="169.0" y1="108.5" x2="175.0" y2="108.5" stroke="#000" stroke-width="0.7"/>
<line x1="205.0" y1="101.5" x2="210.7" y2="101.5" stroke="#000" stroke-width="0.7"/>
<line x1="205.0" y1="106.5" x2="210.7" y2="106.5" stroke="#000" stroke-width="0.7"/>
<line x1="827.5" y1="95.0" x2="832.8" y2="95.0" stroke="#000" stroke-width="0.7"/>
<line x1="753.0" y1="91.5" x2="757.5" y2="91.5" stroke="#000" stroke-width="0.7"/>
<line x1="431.6" y1="93.3" x2="431.6" y2="129.0" stroke="#000" stroke-width="0.9" stroke-opacity="0.85"/>
<line x1="357.7" y1="96.3" x2="357.7" y2="179.0" stroke="#000" stroke-width="0.9" stroke-opacity="0.85"/>
<line x1="409.2" y1="96.7" x2="409.2" y2="162.0" stroke="#000" stroke-width="0.9" stroke-opacity="0.85"/>
<line x1="413.8" y1="96.7" x2="413.8" y2="162.0" stroke="#000" stroke-width="0.9" stroke-opacity="0.85"/>
<line x1="335.4" y1="97.0" x2="335.4" y2="166.0" stroke="#000" stroke-width="0.9" stroke-opacity="0.85"/>
<line x1="498.3" y1="87.5" x2="498.3" y2="144.2" stroke="#000" stroke-width="0.9" stroke-opacity="0.85"/>
<line x1="503.3" y1="87.5" x2="503.3" y2="144.2" stroke="#000" stroke-width="0.9" stroke-opacity="0.85"/>
<line x1="526.3" y1="88.3" x2="526.3" y2="145.0" stroke="#000" stroke-width="0.9" stroke-opacity="0.85"/>
<line x1="528.7" y1="88.3" x2="528.7" y2="145.0" stroke="#000" stroke-width="0.9" stroke-opacity="0.85"/>
<line x1="291.0" y1="82.7" x2="291.0" y2="178.0" stroke="#000" stroke-width="0.9" stroke-opacity="0.85"/>
<line x1="600.0" y1="87.5" x2="600.0" y2="174.0" stroke="#000" stroke-width="0.9" stroke-opacity="0.85"/>
<line x1="579.8" y1="89.2" x2="579.8" y2="172.0" stroke="#000" stroke-width="0.9" stroke-opacity="0.85"/>
<line x1="553.8" y1="88.3" x2="553.8" y2="172.0" stroke="#000" stroke-width="0.9" stroke-opacity="0.85"/>
<line x1="657.3" y1="89.2" x2="657.3" y2="170.0" stroke="#000" stroke-width="0.9" stroke-opacity="0.85"/>
<line x1="702.6" y1="87.5" x2="702.6" y2="166.0" stroke="#000" stroke-width="0.9" stroke-opacity="0.85"/>
<line x1="832.9" y1="90.0" x2="832.9" y2="168.7" stroke="#000" stroke-width="0.9" stroke-opacity="0.85"/>
<line x1="827.5" y1="90.0" x2="827.5" y2="168.7" stroke="#000" stroke-width="0.9" stroke-opacity="0.85"/>
<line x1="357.5" y1="98.0" x2="357.5" y2="281.7" stroke="#a68a4c" stroke-width="0.8"/>
<line x1="353.0" y1="281.7" x2="361.0" y2="281.7" stroke="#8a6414" stroke-width="1.4"/>
<line x1="361.5" y1="98.0" x2="361.5" y2="291.2" stroke="#8a6414" stroke-width="1.3"/>
<line x1="357.5" y1="191.7" x2="365.9" y2="191.7" stroke="#8a6414" stroke-width="1.5"/>
<line x1="357.5" y1="286.2" x2="365.9" y2="286.2" stroke="#8a6414" stroke-width="1.5"/>
<line x1="390.5" y1="158.0" x2="390.5" y2="318.7" stroke="#a68a4c" stroke-width="0.8"/>
<line x1="386.2" y1="184.2" x2="393.8" y2="184.2" stroke="#8a6414" stroke-width="1.4"/>
<line x1="386.2" y1="318.7" x2="393.8" y2="318.7" stroke="#8a6414" stroke-width="1.4"/>
<line x1="422.5" y1="152.0" x2="422.5" y2="312.0" stroke="#a68a4c" stroke-width="0.8"/>
<line x1="418.5" y1="188.0" x2="426.5" y2="188.0" stroke="#8a6414" stroke-width="1.4"/>
<line x1="418.5" y1="312.0" x2="426.5" y2="312.0" stroke="#8a6414" stroke-width="1.4"/>
<line x1="435.5" y1="165.0" x2="435.5" y2="345.7" stroke="#a68a4c" stroke-width="0.8"/>
<line x1="431.2" y1="183.0" x2="438.8" y2="183.0" stroke="#8a6414" stroke-width="1.4"/>
<line x1="431.2" y1="345.7" x2="438.8" y2="345.7" stroke="#8a6414" stroke-width="1.4"/>
<line x1="470.7" y1="94.0" x2="470.7" y2="330.5" stroke="#8a6414" stroke-width="1.5"/>
<line x1="466.7" y1="196.2" x2="474.7" y2="196.2" stroke="#8a6414" stroke-width="1.6"/>
<line x1="466.7" y1="330.5" x2="474.7" y2="330.5" stroke="#8a6414" stroke-width="1.6"/>
<line x1="533.5" y1="119.0" x2="533.5" y2="345.0" stroke="#a68a4c" stroke-width="0.8"/>
<line x1="529.6" y1="193.0" x2="537.6" y2="193.0" stroke="#8a6414" stroke-width="1.5"/>
<line x1="529.6" y1="345.0" x2="537.6" y2="345.0" stroke="#8a6414" stroke-width="1.5"/>
<text x="336.5" y="278.0" font-size="9.8" text-anchor="start" fill="#8a6414" textLength="18.0" lengthAdjust="spacingAndGlyphs" stroke="#8a6414" stroke-width="0.35">H31</text>
<text x="369.0" y="313.2" font-size="9.8" text-anchor="start" fill="#8a6414" textLength="18.0" lengthAdjust="spacingAndGlyphs" stroke="#8a6414" stroke-width="0.35">H17</text>
<text x="403.0" y="303.2" font-size="9.8" text-anchor="start" fill="#8a6414" textLength="18.0" lengthAdjust="spacingAndGlyphs" stroke="#8a6414" stroke-width="0.35">H32</text>
<text x="442.0" y="337.2" font-size="9.8" text-anchor="start" fill="#8a6414" textLength="18.0" lengthAdjust="spacingAndGlyphs" stroke="#8a6414" stroke-width="0.35">H28</text>
<text x="478.0" y="310.0" font-size="9.8" text-anchor="start" fill="#8a6414" textLength="18.0" lengthAdjust="spacingAndGlyphs" stroke="#8a6414" stroke-width="0.35">H20</text>
<text x="511.5" y="292.5" font-size="9.8" text-anchor="start" fill="#8a6414" textLength="18.0" lengthAdjust="spacingAndGlyphs" stroke="#8a6414" stroke-width="0.35">H27</text>
<text x="375.0" y="274.2" font-size="9.8" text-anchor="start" fill="#8a6414" textLength="19.0" lengthAdjust="spacingAndGlyphs" transform="rotate(-90 375.0 274.2)" stroke="#8a6414" stroke-width="0.35">H15</text>
<line x1="347.5" y1="165.0" x2="381.2" y2="165.0" stroke="#4c8220" stroke-width="2.2"/>
<line x1="349.5" y1="187.5" x2="378.7" y2="187.5" stroke="#4c8220" stroke-width="3"/>
<line x1="352.0" y1="212.0" x2="376.2" y2="212.0" stroke="#4c8220" stroke-width="2.2"/>
<line x1="350.0" y1="238.7" x2="373.7" y2="238.7" stroke="#4c8220" stroke-width="2.2"/>
<line x1="361.0" y1="160.5" x2="371.0" y2="160.5" stroke="#7aa850" stroke-width="0.7"/>
<line x1="354.0" y1="168.5" x2="366.0" y2="168.5" stroke="#7aa850" stroke-width="0.7"/>
<line x1="354.0" y1="197.5" x2="369.0" y2="197.5" stroke="#7aa850" stroke-width="0.7"/>
<line x1="358.0" y1="203.5" x2="369.0" y2="203.5" stroke="#7aa850" stroke-width="0.7"/>
<line x1="354.0" y1="222.5" x2="368.0" y2="222.5" stroke="#7aa850" stroke-width="0.7"/>
<line x1="358.0" y1="224.5" x2="369.0" y2="224.5" stroke="#7aa850" stroke-width="0.7"/>
<line x1="354.0" y1="249.5" x2="366.0" y2="249.5" stroke="#7aa850" stroke-width="0.7"/>
<text x="385.5" y="176.8" font-size="15.5" fill="#4c8220" stroke="#fff" stroke-width="0.2" textLength="33" lengthAdjust="spacingAndGlyphs">150<tspan font-size="11" dy="-4.5">o</tspan></text>
<text x="310.5" y="197.0" font-size="15.5" fill="#4c8220" stroke="#fff" stroke-width="0.2" textLength="33" lengthAdjust="spacingAndGlyphs">200<tspan font-size="11" dy="-4.5">o</tspan></text>
<text x="312.5" y="221.0" font-size="15.5" fill="#4c8220" stroke="#fff" stroke-width="0.2" textLength="33" lengthAdjust="spacingAndGlyphs">250<tspan font-size="11" dy="-4.5">o</tspan></text>
<text x="313.0" y="244.0" font-size="15.5" fill="#4c8220" stroke="#fff" stroke-width="0.2" textLength="33" lengthAdjust="spacingAndGlyphs">300<tspan font-size="11" dy="-4.5">o</tspan></text>
<line x1="318.7" y1="71.7" x2="318.3" y2="90.8" stroke="#333" stroke-width="0.6"/>
<line x1="316.7" y1="72.0" x2="320.7" y2="72.0" stroke="#111" stroke-width="1.2"/>
<line x1="318.7" y1="71.7" x2="318.7" y2="74.0" stroke="#222" stroke-width="1.0"/>
<line x1="330.5" y1="72.5" x2="330.8" y2="91.7" stroke="#333" stroke-width="0.6"/>
<line x1="328.5" y1="72.8" x2="332.5" y2="72.8" stroke="#111" stroke-width="1.2"/>
<line x1="330.5" y1="72.5" x2="330.5" y2="74.8" stroke="#222" stroke-width="1.0"/>
<line x1="342.5" y1="74.2" x2="342.5" y2="93.3" stroke="#333" stroke-width="0.6"/>
<line x1="340.2" y1="74.5" x2="344.2" y2="74.5" stroke="#111" stroke-width="1.2"/>
<line x1="342.5" y1="74.2" x2="342.5" y2="76.5" stroke="#222" stroke-width="1.0"/>
<line x1="347.8" y1="71.7" x2="352.5" y2="90.8" stroke="#333" stroke-width="0.6"/>
<line x1="345.8" y1="72.0" x2="349.8" y2="72.0" stroke="#111" stroke-width="1.2"/>
<line x1="347.8" y1="71.7" x2="348.4" y2="74.0" stroke="#222" stroke-width="1.0"/>
<line x1="355.0" y1="70.8" x2="352.5" y2="90.8" stroke="#333" stroke-width="0.6"/>
<line x1="353.0" y1="71.1" x2="357.0" y2="71.1" stroke="#111" stroke-width="1.2"/>
<line x1="355.0" y1="70.8" x2="354.7" y2="73.2" stroke="#222" stroke-width="1.0"/>
<line x1="361.5" y1="71.3" x2="361.5" y2="94.2" stroke="#333" stroke-width="0.6"/>
<line x1="359.2" y1="71.6" x2="363.2" y2="71.6" stroke="#111" stroke-width="1.2"/>
<line x1="361.5" y1="71.3" x2="361.5" y2="74.0" stroke="#222" stroke-width="1.0"/>
<line x1="368.0" y1="71.3" x2="372.5" y2="94.2" stroke="#333" stroke-width="0.6"/>
<line x1="366.0" y1="71.6" x2="370.0" y2="71.6" stroke="#111" stroke-width="1.2"/>
<line x1="368.0" y1="71.3" x2="368.5" y2="74.0" stroke="#222" stroke-width="1.0"/>
<line x1="375.0" y1="71.7" x2="372.5" y2="94.2" stroke="#333" stroke-width="0.6"/>
<line x1="373.0" y1="72.0" x2="377.0" y2="72.0" stroke="#111" stroke-width="1.2"/>
<line x1="375.0" y1="71.7" x2="374.7" y2="74.4" stroke="#222" stroke-width="1.0"/>
<line x1="380.8" y1="74.2" x2="384.2" y2="95.8" stroke="#333" stroke-width="0.6"/>
<line x1="378.8" y1="74.5" x2="382.8" y2="74.5" stroke="#111" stroke-width="1.2"/>
<line x1="380.8" y1="74.2" x2="381.2" y2="76.8" stroke="#222" stroke-width="1.0"/>
<line x1="389.2" y1="75.0" x2="393.3" y2="95.0" stroke="#333" stroke-width="0.6"/>
<line x1="387.2" y1="75.3" x2="391.2" y2="75.3" stroke="#111" stroke-width="1.2"/>
<line x1="389.2" y1="75.0" x2="389.7" y2="77.4" stroke="#222" stroke-width="1.0"/>
<line x1="395.8" y1="74.2" x2="393.3" y2="95.0" stroke="#333" stroke-width="0.6"/>
<line x1="393.8" y1="74.5" x2="397.8" y2="74.5" stroke="#111" stroke-width="1.2"/>
<line x1="395.8" y1="74.2" x2="395.5" y2="76.7" stroke="#222" stroke-width="1.0"/>
<line x1="404.2" y1="76.7" x2="405.0" y2="95.0" stroke="#333" stroke-width="0.6"/>
<line x1="402.2" y1="77.0" x2="406.2" y2="77.0" stroke="#111" stroke-width="1.2"/>
<line x1="404.2" y1="76.7" x2="404.3" y2="78.9" stroke="#222" stroke-width="1.0"/>
<line x1="410.8" y1="75.3" x2="415.8" y2="94.2" stroke="#333" stroke-width="0.6"/>
<line x1="408.8" y1="75.6" x2="412.8" y2="75.6" stroke="#111" stroke-width="1.2"/>
<line x1="410.8" y1="75.3" x2="411.4" y2="77.6" stroke="#222" stroke-width="1.0"/>
<line x1="418.3" y1="75.3" x2="415.8" y2="94.2" stroke="#333" stroke-width="0.6"/>
<line x1="416.3" y1="75.6" x2="420.3" y2="75.6" stroke="#111" stroke-width="1.2"/>
<line x1="418.3" y1="75.3" x2="418.0" y2="77.6" stroke="#222" stroke-width="1.0"/>
<line x1="426.3" y1="73.7" x2="426.7" y2="93.3" stroke="#333" stroke-width="0.6"/>
<line x1="424.3" y1="74.0" x2="428.3" y2="74.0" stroke="#111" stroke-width="1.2"/>
<line x1="426.3" y1="73.7" x2="426.3" y2="76.1" stroke="#222" stroke-width="1.0"/>
<line x1="431.7" y1="73.7" x2="437.5" y2="90.8" stroke="#333" stroke-width="0.6"/>
<line x1="429.7" y1="74.0" x2="433.7" y2="74.0" stroke="#111" stroke-width="1.2"/>
<line x1="431.7" y1="73.7" x2="432.4" y2="75.8" stroke="#222" stroke-width="1.0"/>
<line x1="448.5" y1="73.7" x2="448.5" y2="92.5" stroke="#333" stroke-width="0.6"/>
<line x1="446.0" y1="74.0" x2="450.0" y2="74.0" stroke="#111" stroke-width="1.2"/>
<line x1="448.5" y1="73.7" x2="448.5" y2="76.0" stroke="#222" stroke-width="1.0"/>
<line x1="456.7" y1="72.5" x2="458.0" y2="95.0" stroke="#333" stroke-width="0.6"/>
<line x1="454.7" y1="72.8" x2="458.7" y2="72.8" stroke="#111" stroke-width="1.2"/>
<line x1="456.7" y1="72.5" x2="456.9" y2="75.2" stroke="#222" stroke-width="1.0"/>
<line x1="459.2" y1="72.5" x2="457.5" y2="95.0" stroke="#333" stroke-width="0.6"/>
<line x1="457.2" y1="72.8" x2="461.2" y2="72.8" stroke="#111" stroke-width="1.2"/>
<line x1="459.2" y1="72.5" x2="459.0" y2="75.2" stroke="#222" stroke-width="1.0"/>
<line x1="467.5" y1="69.2" x2="468.3" y2="90.0" stroke="#333" stroke-width="0.6"/>
<line x1="465.5" y1="69.5" x2="469.5" y2="69.5" stroke="#111" stroke-width="1.2"/>
<line x1="467.5" y1="69.2" x2="467.6" y2="71.7" stroke="#222" stroke-width="1.0"/>
<line x1="482.0" y1="70.3" x2="481.7" y2="88.3" stroke="#333" stroke-width="0.6"/>
<line x1="480.0" y1="70.6" x2="484.0" y2="70.6" stroke="#111" stroke-width="1.2"/>
<line x1="482.0" y1="70.3" x2="482.0" y2="72.5" stroke="#222" stroke-width="1.0"/>
<line x1="494.5" y1="70.3" x2="494.5" y2="87.5" stroke="#333" stroke-width="0.6"/>
<line x1="492.7" y1="70.6" x2="496.7" y2="70.6" stroke="#111" stroke-width="1.2"/>
<line x1="494.5" y1="70.3" x2="494.5" y2="72.4" stroke="#222" stroke-width="1.0"/>
<line x1="509.5" y1="68.3" x2="509.5" y2="86.7" stroke="#333" stroke-width="0.6"/>
<line x1="507.5" y1="68.6" x2="511.5" y2="68.6" stroke="#111" stroke-width="1.2"/>
<line x1="509.5" y1="68.3" x2="509.5" y2="70.5" stroke="#222" stroke-width="1.0"/>
<line x1="517.5" y1="68.0" x2="523.3" y2="85.0" stroke="#333" stroke-width="0.6"/>
<line x1="515.5" y1="68.3" x2="519.5" y2="68.3" stroke="#111" stroke-width="1.2"/>
<line x1="517.5" y1="68.0" x2="518.2" y2="70.0" stroke="#222" stroke-width="1.0"/>
<line x1="527.5" y1="67.5" x2="524.2" y2="85.0" stroke="#333" stroke-width="0.6"/>
<line x1="525.5" y1="67.8" x2="529.5" y2="67.8" stroke="#111" stroke-width="1.2"/>
<line x1="527.5" y1="67.5" x2="527.1" y2="69.6" stroke="#222" stroke-width="1.0"/>
<line x1="539.7" y1="66.7" x2="539.2" y2="86.7" stroke="#333" stroke-width="0.6"/>
<line x1="537.7" y1="67.0" x2="541.7" y2="67.0" stroke="#111" stroke-width="1.2"/>
<line x1="539.7" y1="66.7" x2="539.6" y2="69.1" stroke="#222" stroke-width="1.0"/>
<line x1="553.5" y1="69.2" x2="553.5" y2="87.5" stroke="#333" stroke-width="0.6"/>
<line x1="551.7" y1="69.5" x2="555.7" y2="69.5" stroke="#111" stroke-width="1.2"/>
<line x1="553.5" y1="69.2" x2="553.5" y2="71.4" stroke="#222" stroke-width="1.0"/>
<line x1="567.5" y1="69.2" x2="567.5" y2="86.7" stroke="#333" stroke-width="0.6"/>
<line x1="565.2" y1="69.5" x2="569.2" y2="69.5" stroke="#111" stroke-width="1.2"/>
<line x1="567.5" y1="69.2" x2="567.5" y2="71.3" stroke="#222" stroke-width="1.0"/>
<line x1="581.5" y1="68.3" x2="581.5" y2="86.7" stroke="#333" stroke-width="0.6"/>
<line x1="579.7" y1="68.6" x2="583.7" y2="68.6" stroke="#111" stroke-width="1.2"/>
<line x1="581.5" y1="68.3" x2="581.5" y2="70.5" stroke="#222" stroke-width="1.0"/>
<circle cx="140.8" cy="101.8" r="1.3" fill="none" stroke="#a868f0" stroke-width="0.8"/>
<circle cx="174.1" cy="103.7" r="1.3" fill="none" stroke="#a868f0" stroke-width="0.8"/>
<circle cx="213.1" cy="96.4" r="1.3" fill="none" stroke="#a868f0" stroke-width="0.8"/>
<circle cx="242.5" cy="99.7" r="1.3" fill="none" stroke="#a868f0" stroke-width="0.8"/>
<circle cx="275.8" cy="87.0" r="1.3" fill="none" stroke="#a868f0" stroke-width="0.8"/>
<circle cx="290.1" cy="81.7" r="1.3" fill="none" stroke="#a868f0" stroke-width="0.8"/>
<circle cx="307.5" cy="84.7" r="1.3" fill="none" stroke="#a868f0" stroke-width="0.8"/>
<circle cx="319.1" cy="90.5" r="1.3" fill="none" stroke="#a868f0" stroke-width="0.8"/>
<circle cx="331.6" cy="92.2" r="1.3" fill="none" stroke="#a868f0" stroke-width="0.8"/>
<circle cx="339.1" cy="93.9" r="1.3" fill="none" stroke="#a868f0" stroke-width="0.8"/>
<circle cx="353.3" cy="91.3" r="1.3" fill="none" stroke="#a868f0" stroke-width="0.8"/>
<circle cx="362.5" cy="94.2" r="1.3" fill="none" stroke="#a868f0" stroke-width="0.8"/>
<circle cx="373.3" cy="94.7" r="1.3" fill="none" stroke="#a868f0" stroke-width="0.8"/>
<circle cx="385.0" cy="95.9" r="1.3" fill="none" stroke="#a868f0" stroke-width="0.8"/>
<circle cx="394.1" cy="95.2" r="1.3" fill="none" stroke="#a868f0" stroke-width="0.8"/>
<circle cx="405.8" cy="95.0" r="1.3" fill="none" stroke="#a868f0" stroke-width="0.8"/>
<circle cx="416.6" cy="94.2" r="1.3" fill="none" stroke="#a868f0" stroke-width="0.8"/>
<circle cx="427.5" cy="93.0" r="1.3" fill="none" stroke="#a868f0" stroke-width="0.8"/>
<circle cx="438.3" cy="90.5" r="1.3" fill="none" stroke="#a868f0" stroke-width="0.8"/>
<circle cx="448.8" cy="92.2" r="1.3" fill="none" stroke="#a868f0" stroke-width="0.8"/>
<circle cx="458.8" cy="95.0" r="1.3" fill="none" stroke="#a868f0" stroke-width="0.8"/>
<circle cx="469.1" cy="89.7" r="1.3" fill="none" stroke="#a868f0" stroke-width="0.8"/>
<circle cx="482.5" cy="87.7" r="1.3" fill="none" stroke="#a868f0" stroke-width="0.8"/>
<circle cx="495.5" cy="87.2" r="1.3" fill="none" stroke="#a868f0" stroke-width="0.8"/>
<circle cx="510.3" cy="87.0" r="1.3" fill="none" stroke="#a868f0" stroke-width="0.8"/>
<circle cx="524.1" cy="87.0" r="1.3" fill="none" stroke="#a868f0" stroke-width="0.8"/>
<circle cx="540.0" cy="87.0" r="1.3" fill="none" stroke="#a868f0" stroke-width="0.8"/>
<circle cx="554.5" cy="87.0" r="1.3" fill="none" stroke="#a868f0" stroke-width="0.8"/>
<circle cx="568.0" cy="87.0" r="1.3" fill="none" stroke="#a868f0" stroke-width="0.8"/>
<circle cx="582.5" cy="87.0" r="1.3" fill="none" stroke="#a868f0" stroke-width="0.8"/>
<circle cx="599.8" cy="86.7" r="1.3" fill="none" stroke="#a868f0" stroke-width="0.8"/>
<circle cx="611.8" cy="86.7" r="1.3" fill="none" stroke="#a868f0" stroke-width="0.8"/>
<circle cx="655.8" cy="86.7" r="1.3" fill="none" stroke="#a868f0" stroke-width="0.8"/>
<circle cx="675.8" cy="86.7" r="1.3" fill="none" stroke="#a868f0" stroke-width="0.8"/>
<circle cx="701.8" cy="86.7" r="1.3" fill="none" stroke="#a868f0" stroke-width="0.8"/>
<circle cx="726.8" cy="86.7" r="1.3" fill="none" stroke="#a868f0" stroke-width="0.8"/>
<circle cx="756.8" cy="86.7" r="1.3" fill="none" stroke="#a868f0" stroke-width="0.8"/>
<text x="625.0" y="110.0" font-size="16.5" text-anchor="start" fill="#000" stroke="#fff" stroke-width="0.25" textLength="24.5" lengthAdjust="spacingAndGlyphs">top</text>
<text x="605.0" y="179.3" font-size="16" text-anchor="start" fill="#000" stroke="#fff" stroke-width="0.25" textLength="57.0" lengthAdjust="spacingAndGlyphs">bottom</text>
<text x="585.5" y="259.5" font-size="14.5" text-anchor="start" fill="#000" stroke="#fff" stroke-width="0.18" textLength="67.0" lengthAdjust="spacingAndGlyphs">reservoir</text>
<line x1="542.0" y1="199.5" x2="582.0" y2="246.2" stroke="#222" stroke-width="0.8"/>
<line x1="585.5" y1="265.0" x2="543.0" y2="338.0" stroke="#222" stroke-width="0.8"/>
<path d="M187.4 344.5V305.6H203.5A9 9.7 0 0 1 203.5 325H187.4" fill="none" stroke="#4a4a4a" stroke-width="2.4" stroke-linejoin="miter"/>
<path d="M187.4 344.5V305.6H203.5A9 9.7 0 0 1 203.5 325H187.4" fill="none" stroke="#fff" stroke-width="1.3499999999999999" stroke-linejoin="miter"/>
<path d="M224.6 315.5A11.6 10.3 0 1 1 246.3 320.5L224.5 343.4H250" fill="none" stroke="#4a4a4a" stroke-width="2.4" stroke-linejoin="miter"/>
<path d="M224.6 315.5A11.6 10.3 0 1 1 246.3 320.5L224.5 343.4H250" fill="none" stroke="#fff" stroke-width="1.3499999999999999" stroke-linejoin="miter"/>
<ellipse cx="44.4" cy="439.8" rx="11.4" ry="13.3" fill="none" stroke="#4a4a4a" stroke-width="2.4"/>
<ellipse cx="44.4" cy="439.8" rx="11.4" ry="13.3" fill="none" stroke="#fff" stroke-width="1.35"/>
<path d="M31.6 414.3V453.3" fill="none" stroke="#4a4a4a" stroke-width="2.4" stroke-linejoin="miter"/>
<path d="M31.6 414.3V453.3" fill="none" stroke="#fff" stroke-width="1.3499999999999999" stroke-linejoin="miter"/>
<text x="81.3" y="400.9" font-size="21" text-anchor="start" fill="#000" stroke="#fff" stroke-width="0.3" textLength="32.0" lengthAdjust="spacingAndGlyphs">NW</text>
<text x="791.0" y="401.0" font-size="21" text-anchor="start" fill="#000" stroke="#fff" stroke-width="0.3" textLength="25.5" lengthAdjust="spacingAndGlyphs">SE</text>
<line x1="102.3" y1="436.5" x2="807.3" y2="436.5" stroke="#000" stroke-width="1.1"/>
<line x1="102.5" y1="427.0" x2="102.5" y2="436.7" stroke="#222" stroke-width="0.9"/>
<text x="102.2" y="424.2" font-size="11.5" text-anchor="middle" fill="#000" stroke="#000" stroke-width="0.4">0</text>
<line x1="153.5" y1="427.0" x2="153.5" y2="436.7" stroke="#222" stroke-width="0.9"/>
<text x="153.0" y="421.7" font-size="11.5" text-anchor="middle" fill="#000" stroke="#000" stroke-width="0.4">1</text>
<line x1="204.5" y1="427.0" x2="204.5" y2="436.7" stroke="#222" stroke-width="0.9"/>
<text x="204.2" y="422.2" font-size="11.5" text-anchor="middle" fill="#000" stroke="#000" stroke-width="0.4">2</text>
<line x1="254.5" y1="427.0" x2="254.5" y2="436.7" stroke="#222" stroke-width="0.9"/>
<text x="253.7" y="422.2" font-size="11.5" text-anchor="middle" fill="#000" stroke="#000" stroke-width="0.4">3</text>
<line x1="303.5" y1="427.0" x2="303.5" y2="436.7" stroke="#222" stroke-width="0.9"/>
<text x="303.2" y="421.2" font-size="11.5" text-anchor="middle" fill="#000" stroke="#000" stroke-width="0.4">4</text>
<line x1="353.5" y1="427.0" x2="353.5" y2="436.7" stroke="#222" stroke-width="0.9"/>
<text x="353.2" y="421.7" font-size="11.5" text-anchor="middle" fill="#000" stroke="#000" stroke-width="0.4">5</text>
<line x1="403.5" y1="427.0" x2="403.5" y2="436.7" stroke="#222" stroke-width="0.9"/>
<text x="402.7" y="422.7" font-size="11.5" text-anchor="middle" fill="#000" stroke="#000" stroke-width="0.4">6</text>
<line x1="454.5" y1="427.0" x2="454.5" y2="436.7" stroke="#222" stroke-width="0.9"/>
<text x="454.2" y="421.7" font-size="11.5" text-anchor="middle" fill="#000" stroke="#000" stroke-width="0.4">7</text>
<line x1="505.5" y1="427.0" x2="505.5" y2="436.7" stroke="#222" stroke-width="0.9"/>
<text x="505.5" y="420.7" font-size="11.5" text-anchor="middle" fill="#000" stroke="#000" stroke-width="0.4">8</text>
<line x1="556.5" y1="427.0" x2="556.5" y2="436.7" stroke="#222" stroke-width="0.9"/>
<text x="556.4" y="420.7" font-size="11.5" text-anchor="middle" fill="#000" stroke="#000" stroke-width="0.4">9</text>
<line x1="606.5" y1="427.0" x2="606.5" y2="436.7" stroke="#222" stroke-width="0.9"/>
<text x="606.4" y="423.2" font-size="11.5" text-anchor="middle" fill="#000" textLength="13.5" lengthAdjust="spacingAndGlyphs">10</text>
<line x1="656.5" y1="427.0" x2="656.5" y2="436.7" stroke="#222" stroke-width="0.9"/>
<text x="656.4" y="423.2" font-size="11.5" text-anchor="middle" fill="#000" textLength="13.5" lengthAdjust="spacingAndGlyphs">11</text>
<line x1="706.5" y1="427.0" x2="706.5" y2="436.7" stroke="#222" stroke-width="0.9"/>
<text x="706.4" y="422.4" font-size="11.5" text-anchor="middle" fill="#000" textLength="13.5" lengthAdjust="spacingAndGlyphs">12</text>
<line x1="757.5" y1="427.0" x2="757.5" y2="436.7" stroke="#222" stroke-width="0.9"/>
<text x="757.2" y="423.0" font-size="11.5" text-anchor="middle" fill="#000" textLength="13.5" lengthAdjust="spacingAndGlyphs">13</text>
<line x1="807.5" y1="427.0" x2="807.5" y2="436.7" stroke="#222" stroke-width="0.9"/>
<text x="806.7" y="422.4" font-size="11.5" text-anchor="middle" fill="#000" textLength="13.5" lengthAdjust="spacingAndGlyphs">14</text>
<text x="823.0" y="422.4" font-size="11.5" text-anchor="start" fill="#000" textLength="17.5" lengthAdjust="spacingAndGlyphs">km</text>
<line x1="102.5" y1="465.5" x2="102.5" y2="721.5" stroke="#444" stroke-width="0.9"/>
<line x1="102.7" y1="465.5" x2="118.0" y2="465.5" stroke="#666" stroke-width="1.0"/>
<text x="96.3" y="470.5" font-size="11.7" text-anchor="end" fill="#000">0</text>
<line x1="102.7" y1="485.5" x2="118.0" y2="485.5" stroke="#111" stroke-width="1.0"/>
<text x="99.3" y="490.2" font-size="11.7" text-anchor="end" fill="#000" textLength="22.5" lengthAdjust="spacingAndGlyphs">200</text>
<line x1="102.7" y1="504.5" x2="118.0" y2="504.5" stroke="#666" stroke-width="1.0"/>
<text x="99.3" y="509.8" font-size="11.7" text-anchor="end" fill="#000" textLength="22.5" lengthAdjust="spacingAndGlyphs">400</text>
<line x1="102.7" y1="524.5" x2="118.0" y2="524.5" stroke="#111" stroke-width="1.0"/>
<text x="99.3" y="529.5" font-size="11.7" text-anchor="end" fill="#000" textLength="22.5" lengthAdjust="spacingAndGlyphs">600</text>
<line x1="102.7" y1="544.5" x2="118.0" y2="544.5" stroke="#666" stroke-width="1.0"/>
<text x="99.3" y="549.2" font-size="11.7" text-anchor="end" fill="#000" textLength="22.5" lengthAdjust="spacingAndGlyphs">800</text>
<line x1="102.7" y1="563.5" x2="118.0" y2="563.5" stroke="#111" stroke-width="1.0"/>
<text x="99.3" y="568.9" font-size="11.7" text-anchor="end" fill="#000" textLength="30.0" lengthAdjust="spacingAndGlyphs">1000</text>
<line x1="102.7" y1="583.5" x2="118.0" y2="583.5" stroke="#666" stroke-width="1.0"/>
<text x="99.3" y="588.5" font-size="11.7" text-anchor="end" fill="#000" textLength="30.0" lengthAdjust="spacingAndGlyphs">1200</text>
<line x1="102.7" y1="603.5" x2="118.0" y2="603.5" stroke="#111" stroke-width="1.0"/>
<text x="99.3" y="608.2" font-size="11.7" text-anchor="end" fill="#000" textLength="30.0" lengthAdjust="spacingAndGlyphs">1400</text>
<line x1="102.7" y1="622.5" x2="118.0" y2="622.5" stroke="#666" stroke-width="1.0"/>
<text x="99.3" y="627.9" font-size="11.7" text-anchor="end" fill="#000" textLength="30.0" lengthAdjust="spacingAndGlyphs">1600</text>
<line x1="102.7" y1="642.5" x2="118.0" y2="642.5" stroke="#111" stroke-width="1.0"/>
<text x="99.3" y="647.5" font-size="11.7" text-anchor="end" fill="#000" textLength="30.0" lengthAdjust="spacingAndGlyphs">1800</text>
<line x1="102.7" y1="662.5" x2="118.0" y2="662.5" stroke="#666" stroke-width="1.0"/>
<text x="99.3" y="667.2" font-size="11.7" text-anchor="end" fill="#000" textLength="30.0" lengthAdjust="spacingAndGlyphs">2000</text>
<line x1="102.7" y1="681.5" x2="118.0" y2="681.5" stroke="#111" stroke-width="1.0"/>
<text x="99.3" y="686.9" font-size="11.7" text-anchor="end" fill="#000" textLength="30.0" lengthAdjust="spacingAndGlyphs">2200</text>
<line x1="102.7" y1="701.5" x2="118.0" y2="701.5" stroke="#666" stroke-width="1.0"/>
<text x="99.3" y="706.5" font-size="11.7" text-anchor="end" fill="#000" textLength="30.0" lengthAdjust="spacingAndGlyphs">2400</text>
<line x1="102.7" y1="721.5" x2="118.0" y2="721.5" stroke="#111" stroke-width="1.0"/>
<text x="99.3" y="726.2" font-size="11.7" text-anchor="end" fill="#000" textLength="30.0" lengthAdjust="spacingAndGlyphs">2600</text>
<text x="59.3" y="638.5" font-size="17" text-anchor="start" fill="#000" stroke="#fff" stroke-width="0.22" textLength="47.5" lengthAdjust="spacingAndGlyphs" transform="rotate(-90 59.3 638.5)">depth</text>
<text x="59.3" y="578.8" font-size="17" text-anchor="start" fill="#000" stroke="#fff" stroke-width="0.22" textLength="32.5" lengthAdjust="spacingAndGlyphs" transform="rotate(-90 59.3 578.8)">(m)</text>
<line x1="809.5" y1="460.5" x2="809.5" y2="726.9" stroke="#222" stroke-width="0.9"/>
<line x1="795.7" y1="460.5" x2="809.5" y2="460.5" stroke="#222" stroke-width="0.9"/>
<line x1="794.5" y1="470.5" x2="809.5" y2="470.5" stroke="#777" stroke-width="0.9"/>
<text x="814.0" y="473.7" font-size="11.5" text-anchor="start" fill="#000" textLength="28.0" lengthAdjust="spacingAndGlyphs">2800</text>
<line x1="794.5" y1="500.5" x2="809.5" y2="500.5" stroke="#111" stroke-width="0.9"/>
<text x="814.0" y="504.0" font-size="11.5" text-anchor="start" fill="#000" textLength="28.0" lengthAdjust="spacingAndGlyphs">2500</text>
<line x1="794.5" y1="549.5" x2="809.5" y2="549.5" stroke="#111" stroke-width="0.9"/>
<text x="814.0" y="554.3" font-size="11.5" text-anchor="start" fill="#000" textLength="28.0" lengthAdjust="spacingAndGlyphs">2000</text>
<line x1="794.5" y1="598.5" x2="809.5" y2="598.5" stroke="#777" stroke-width="0.9"/>
<text x="814.0" y="602.3" font-size="11.5" text-anchor="start" fill="#000" textLength="28.0" lengthAdjust="spacingAndGlyphs">1500</text>
<line x1="794.5" y1="647.5" x2="809.5" y2="647.5" stroke="#777" stroke-width="0.9"/>
<text x="814.0" y="650.6" font-size="11.5" text-anchor="start" fill="#000" textLength="28.0" lengthAdjust="spacingAndGlyphs">1000</text>
<line x1="794.5" y1="696.5" x2="809.5" y2="696.5" stroke="#111" stroke-width="0.9"/>
<text x="815.0" y="702.3" font-size="11.5" text-anchor="start" fill="#000" textLength="21.5" lengthAdjust="spacingAndGlyphs">500</text>
<line x1="794.5" y1="726.5" x2="809.5" y2="726.5" stroke="#777" stroke-width="0.9"/>
<text x="815.0" y="729.0" font-size="11.5" text-anchor="start" fill="#000" textLength="21.5" lengthAdjust="spacingAndGlyphs">200</text>
<text x="869.5" y="644.5" font-size="17" text-anchor="start" fill="#000" stroke="#fff" stroke-width="0.22" textLength="78.5" lengthAdjust="spacingAndGlyphs" transform="rotate(-90 869.5 644.5)">elevation</text>
<text x="869.5" y="555.7" font-size="17" text-anchor="start" fill="#000" stroke="#fff" stroke-width="0.22" textLength="62.0" lengthAdjust="spacingAndGlyphs" transform="rotate(-90 869.5 555.7)">(masl)</text>
<path d="M113.0 472.2C120.8 472.3 140.5 472.6 160.0 472.6C179.5 472.7 206.7 472.6 230.0 472.5C253.3 472.4 281.7 472.4 300.0 472.3C318.3 472.2 329.2 471.9 340.0 471.7C350.8 471.5 356.7 471.6 365.0 471.3C373.3 471.0 383.1 470.4 390.0 470.0C396.9 469.6 401.1 469.2 406.7 468.7C412.2 468.1 417.8 467.3 423.3 466.7C428.9 466.1 433.6 466.0 440.0 465.3C446.4 464.6 454.2 463.2 461.7 462.5C469.2 461.8 478.6 461.4 485.0 460.8C491.4 460.2 493.3 459.7 500.0 459.2C506.7 458.7 517.2 458.7 525.0 458.0C532.8 457.3 539.8 455.9 546.7 455.0C553.7 454.1 559.5 453.2 566.7 452.5C573.9 451.8 581.7 451.0 590.0 450.8C598.3 450.6 608.7 451.2 616.7 451.2C624.8 451.2 632.4 451.0 638.3 450.8C644.2 450.6 647.5 450.4 652.0 450.0C656.5 449.6 659.9 448.7 665.0 448.7C670.1 448.7 676.7 449.2 682.5 450.0C688.3 450.8 692.9 452.7 700.0 453.7C707.1 454.7 716.7 455.8 725.0 456.2C733.3 456.6 739.4 456.4 750.0 456.2C760.6 456.0 782.2 455.2 788.7 455.0" fill="none" stroke="#1a1a1a" stroke-width="0.8"/>
<path d="M123.7 504.5C127.7 504.7 141.0 504.9 147.5 505.5C154.0 506.1 157.5 507.9 162.5 508.2C167.5 508.5 171.7 508.5 177.5 507.5C183.3 506.5 191.2 503.0 197.5 502.0C203.8 501.0 209.2 501.6 215.0 501.5C220.8 501.4 225.8 501.6 232.5 501.5C239.2 501.4 247.9 501.3 255.0 500.7C262.1 500.1 267.9 499.2 275.0 498.0C282.1 496.8 289.2 495.0 297.5 493.7C305.8 492.4 317.9 491.0 325.0 490.0C332.1 489.0 334.7 488.1 340.0 487.5C345.3 486.9 351.1 487.1 356.7 486.7C362.2 486.3 368.6 485.8 373.3 485.0C378.0 484.2 381.7 482.9 385.0 481.7C388.3 480.4 391.1 477.9 393.3 477.5C395.5 477.1 396.6 478.1 398.3 479.2C400.0 480.3 400.8 482.8 403.3 484.2C405.8 485.6 410.0 487.4 413.3 487.5C416.6 487.6 420.5 485.8 423.3 485.0C426.1 484.2 427.2 483.0 430.0 483.0C432.8 483.0 436.7 484.2 440.0 485.0C443.3 485.8 445.6 487.1 450.0 487.5C454.4 487.9 462.5 487.1 466.7 487.5C470.9 487.9 472.8 488.2 475.0 490.0C477.2 491.8 478.4 496.4 480.0 498.3C481.6 500.2 483.3 502.1 484.7 501.3C486.1 500.5 487.1 497.1 488.3 493.3C489.5 489.5 490.4 481.5 491.7 478.3C492.9 475.1 494.4 474.2 495.8 474.2C497.2 474.2 498.8 476.4 500.0 478.3C501.2 480.2 501.9 484.1 503.3 485.8C504.7 487.5 505.2 488.0 508.3 488.3C511.4 488.6 518.1 488.3 521.7 487.5C525.3 486.7 527.6 484.6 530.0 483.3C532.4 482.1 533.8 480.1 535.8 480.0C537.8 479.9 539.9 480.8 541.7 482.5C543.5 484.2 544.8 488.3 546.7 490.0C548.6 491.7 550.0 492.5 553.3 492.5C556.6 492.5 562.2 491.5 566.7 490.0C571.2 488.5 576.1 485.1 580.0 483.3C583.9 481.5 586.7 480.0 590.0 479.2C593.3 478.4 595.5 478.6 600.0 478.7C604.5 478.8 610.0 479.6 616.7 480.0C623.4 480.4 634.5 480.2 640.0 480.8C645.5 481.4 645.8 482.3 650.0 483.5C654.2 484.7 659.6 486.5 665.0 488.0C670.4 489.5 675.4 490.3 682.5 492.5C689.6 494.7 700.4 499.0 707.5 501.2C714.6 503.4 720.4 504.2 725.0 505.5C729.6 506.8 730.8 506.5 735.0 508.7C739.2 510.9 745.0 515.6 750.0 518.7C755.0 521.8 760.0 525.6 765.0 527.5C770.0 529.4 775.5 529.6 780.0 530.0C784.5 530.4 790.0 530.0 792.0 530.0" fill="none" stroke="#1a1a1a" stroke-width="0.8"/>
<path d="M151.2 552.5C153.9 552.4 159.4 552.8 167.5 552.0C175.6 551.2 189.2 549.0 200.0 547.5C210.8 546.0 225.0 543.8 232.5 543.0C240.0 542.2 240.4 542.2 245.0 543.0C249.6 543.8 255.0 546.4 260.0 548.0C265.0 549.6 270.0 551.3 275.0 552.5C280.0 553.7 284.6 554.8 290.0 555.0C295.4 555.2 301.7 554.4 307.5 553.7C313.3 553.0 320.8 550.7 325.0 550.7C329.2 550.7 330.0 552.4 332.5 553.7C335.0 555.0 337.4 557.8 340.0 558.3C342.6 558.8 346.4 558.6 348.3 556.7C350.2 554.8 350.4 549.1 351.7 546.7C352.9 544.3 354.3 542.6 355.8 542.5C357.3 542.4 359.3 544.0 360.8 545.8C362.3 547.6 362.9 551.8 365.0 553.3C367.1 554.8 370.5 555.5 373.3 555.0C376.1 554.5 379.2 551.2 381.7 550.0C384.2 548.8 384.7 547.8 388.3 547.5C391.9 547.2 398.9 548.2 403.3 548.3C407.8 548.4 410.8 548.3 415.0 548.3C419.2 548.2 424.4 548.8 428.3 548.0C432.2 547.2 435.2 545.5 438.3 543.3C441.4 541.1 443.6 537.6 446.7 535.0C449.8 532.4 453.4 529.0 456.7 527.5C460.0 526.0 463.6 526.3 466.7 525.8C469.8 525.3 472.2 524.0 475.0 524.7C477.8 525.4 479.1 529.0 483.3 530.0C487.5 531.0 494.4 530.2 500.0 530.8C505.6 531.3 511.2 532.3 516.7 533.3C522.2 534.3 527.8 535.5 533.3 536.7C538.8 537.9 544.4 539.7 550.0 540.5C555.6 541.3 561.2 541.4 566.7 541.3C572.2 541.2 577.8 540.6 583.3 540.0C588.8 539.4 594.4 538.5 600.0 537.5C605.6 536.5 612.2 535.3 616.7 534.2C621.2 533.1 623.7 531.7 626.7 530.8C629.8 529.9 632.0 529.0 635.0 528.7C638.0 528.4 642.0 528.4 645.0 529.2C648.0 530.0 650.8 531.8 653.3 533.3C655.8 534.8 657.2 537.0 660.0 538.5C662.8 540.0 663.3 540.8 670.0 542.0C676.7 543.2 692.5 545.1 700.0 545.5C707.5 545.9 710.8 545.0 715.0 544.5C719.2 544.0 721.7 542.7 725.0 542.5C728.3 542.3 730.8 541.5 735.0 543.2C739.2 544.9 745.0 549.9 750.0 552.5C755.0 555.1 760.0 557.0 765.0 558.7C770.0 560.5 776.5 562.2 780.0 563.0C783.5 563.8 785.2 563.6 786.2 563.7" fill="none" stroke="#1a1a1a" stroke-width="0.8"/>
<rect x="521.7" y="458.7" width="2" height="15.5" fill="#60f840"/>
<rect x="531.7" y="457.5" width="2.2" height="20" fill="#a0f040"/>
<rect x="543" y="455.8" width="1.8" height="6.7" fill="#2020c0"/>
<rect x="128.2" y="472.5" width="4.8" height="33.0" fill="#0000a0"/><rect x="128.2" y="505.5" width="4.8" height="10.0" fill="#ff8000"/><rect x="128.2" y="472.5" width="4.8" height="43.0" fill="none" stroke="#000" stroke-opacity="0.8" stroke-width="0.75"/><line x1="128.2" y1="505.5" x2="133.0" y2="505.5" stroke="#000" stroke-opacity="0.55" stroke-width="0.5"/>
<rect x="162.5" y="475.0" width="5.0" height="36.2" fill="#0000a0"/><rect x="162.5" y="511.2" width="5.0" height="41.3" fill="#ff4000"/><rect x="162.5" y="552.5" width="5.0" height="10.5" fill="#00ee00"/><rect x="162.5" y="475.0" width="5.0" height="88.0" fill="none" stroke="#000" stroke-opacity="0.8" stroke-width="0.75"/><line x1="162.5" y1="511.2" x2="167.5" y2="511.2" stroke="#000" stroke-opacity="0.55" stroke-width="0.5"/><line x1="162.5" y1="552.5" x2="167.5" y2="552.5" stroke="#000" stroke-opacity="0.55" stroke-width="0.5"/>
<rect x="196.7" y="472.5" width="5.0" height="29.5" fill="#0000a0"/><rect x="196.7" y="502.0" width="5.0" height="9.7" fill="#ffc000"/><rect x="196.7" y="472.5" width="5.0" height="39.2" fill="none" stroke="#000" stroke-opacity="0.8" stroke-width="0.75"/><line x1="196.7" y1="502.0" x2="201.7" y2="502.0" stroke="#000" stroke-opacity="0.55" stroke-width="0.5"/>
<rect x="232.5" y="473.0" width="5.0" height="29.5" fill="#0000a0"/><rect x="232.5" y="502.5" width="5.0" height="40.7" fill="#ff0808"/><rect x="232.5" y="543.2" width="5.0" height="11.0" fill="#80f000"/><rect x="232.5" y="473.0" width="5.0" height="81.2" fill="none" stroke="#000" stroke-opacity="0.8" stroke-width="0.75"/><line x1="232.5" y1="502.5" x2="237.5" y2="502.5" stroke="#000" stroke-opacity="0.55" stroke-width="0.5"/><line x1="232.5" y1="543.2" x2="237.5" y2="543.2" stroke="#000" stroke-opacity="0.55" stroke-width="0.5"/>
<rect x="247.5" y="473.0" width="6.2" height="10.7" fill="#0000a0"/><rect x="247.5" y="483.7" width="6.2" height="16.8" fill="#08a030"/><rect x="247.5" y="500.5" width="6.2" height="10.0" fill="#ffc000"/><rect x="247.5" y="473.0" width="6.2" height="37.5" fill="none" stroke="#000" stroke-opacity="0.8" stroke-width="0.75"/><line x1="247.5" y1="483.7" x2="253.7" y2="483.7" stroke="#000" stroke-opacity="0.55" stroke-width="0.5"/><line x1="247.5" y1="500.5" x2="253.7" y2="500.5" stroke="#000" stroke-opacity="0.55" stroke-width="0.5"/>
<rect x="294.2" y="473.0" width="2.5" height="9.5" fill="#0000a0"/><rect x="294.2" y="482.5" width="2.5" height="12.5" fill="#80f000"/><rect x="294.2" y="495.0" width="2.5" height="10.5" fill="#ff8000"/><rect x="294.2" y="473.0" width="2.5" height="32.5" fill="none" stroke="#000" stroke-opacity="0.8" stroke-width="0.75"/><line x1="294.2" y1="482.5" x2="296.7" y2="482.5" stroke="#000" stroke-opacity="0.55" stroke-width="0.5"/><line x1="294.2" y1="495.0" x2="296.7" y2="495.0" stroke="#000" stroke-opacity="0.55" stroke-width="0.5"/>
<rect x="297.5" y="473.0" width="6.2" height="19.0" fill="#0000a0"/><rect x="297.5" y="492.0" width="6.2" height="17.5" fill="#ff4000"/><rect x="297.5" y="509.5" width="6.2" height="43.0" fill="#ff0808"/><rect x="297.5" y="552.5" width="6.2" height="10.0" fill="#ffff00"/><rect x="297.5" y="473.0" width="6.2" height="89.5" fill="none" stroke="#000" stroke-opacity="0.8" stroke-width="0.75"/><line x1="297.5" y1="492.0" x2="303.7" y2="492.0" stroke="#000" stroke-opacity="0.55" stroke-width="0.5"/><line x1="297.5" y1="509.5" x2="303.7" y2="509.5" stroke="#000" stroke-opacity="0.55" stroke-width="0.5"/><line x1="297.5" y1="552.5" x2="303.7" y2="552.5" stroke="#000" stroke-opacity="0.55" stroke-width="0.5"/>
<rect x="308.2" y="473.7" width="5.0" height="19.5" fill="#0000a0"/><rect x="308.2" y="493.2" width="5.0" height="59.8" fill="#ff4000"/><rect x="308.2" y="553.0" width="5.0" height="10.2" fill="#80f000"/><rect x="308.2" y="473.7" width="5.0" height="89.5" fill="none" stroke="#000" stroke-opacity="0.8" stroke-width="0.75"/><line x1="308.2" y1="493.2" x2="313.2" y2="493.2" stroke="#000" stroke-opacity="0.55" stroke-width="0.5"/><line x1="308.2" y1="553.0" x2="313.2" y2="553.0" stroke="#000" stroke-opacity="0.55" stroke-width="0.5"/>
<rect x="319.5" y="473.0" width="5.0" height="16.5" fill="#0000a0"/><rect x="319.5" y="489.5" width="5.0" height="61.2" fill="#ff4000"/><rect x="319.5" y="550.7" width="5.0" height="9.8" fill="#80f000"/><rect x="319.5" y="473.0" width="5.0" height="87.5" fill="none" stroke="#000" stroke-opacity="0.8" stroke-width="0.75"/><line x1="319.5" y1="489.5" x2="324.5" y2="489.5" stroke="#000" stroke-opacity="0.55" stroke-width="0.5"/><line x1="319.5" y1="550.7" x2="324.5" y2="550.7" stroke="#000" stroke-opacity="0.55" stroke-width="0.5"/>
<rect x="329.5" y="473.0" width="4.7" height="15.7" fill="#0000a0"/><rect x="329.5" y="488.7" width="4.7" height="54.3" fill="#ff8000"/><rect x="329.5" y="543.0" width="4.7" height="10.2" fill="#ffff00"/><rect x="329.5" y="473.0" width="4.7" height="80.2" fill="none" stroke="#000" stroke-opacity="0.8" stroke-width="0.75"/><line x1="329.5" y1="488.7" x2="334.2" y2="488.7" stroke="#000" stroke-opacity="0.55" stroke-width="0.5"/><line x1="329.5" y1="543.0" x2="334.2" y2="543.0" stroke="#000" stroke-opacity="0.55" stroke-width="0.5"/>
<rect x="340.8" y="471.7" width="5.5" height="14.1" fill="#0000a0"/><rect x="340.8" y="485.8" width="5.5" height="58.4" fill="#ff8000"/><rect x="340.8" y="544.2" width="5.5" height="10.0" fill="#ffc000"/><rect x="340.8" y="471.7" width="5.5" height="82.5" fill="none" stroke="#000" stroke-opacity="0.8" stroke-width="0.75"/><line x1="340.8" y1="485.8" x2="346.3" y2="485.8" stroke="#000" stroke-opacity="0.55" stroke-width="0.5"/><line x1="340.8" y1="544.2" x2="346.3" y2="544.2" stroke="#000" stroke-opacity="0.55" stroke-width="0.5"/>
<rect x="350.8" y="471.7" width="5.5" height="10.0" fill="#0000a0"/><rect x="350.8" y="481.7" width="5.5" height="5.8" fill="#08a030"/><rect x="350.8" y="487.5" width="5.5" height="54.5" fill="#ff8000"/><rect x="350.8" y="542.0" width="5.5" height="10.0" fill="#80f000"/><rect x="350.8" y="471.7" width="5.5" height="80.3" fill="none" stroke="#000" stroke-opacity="0.8" stroke-width="0.75"/><line x1="350.8" y1="481.7" x2="356.3" y2="481.7" stroke="#000" stroke-opacity="0.55" stroke-width="0.5"/><line x1="350.8" y1="487.5" x2="356.3" y2="487.5" stroke="#000" stroke-opacity="0.55" stroke-width="0.5"/><line x1="350.8" y1="542.0" x2="356.3" y2="542.0" stroke="#000" stroke-opacity="0.55" stroke-width="0.5"/>
<rect x="363.3" y="472.5" width="3.0" height="10.8" fill="#00ee00"/><rect x="363.3" y="483.3" width="3.0" height="66.7" fill="#ffc000"/><rect x="363.3" y="550.0" width="3.0" height="10.0" fill="#ffff00"/><rect x="363.3" y="472.5" width="3.0" height="87.5" fill="none" stroke="#000" stroke-opacity="0.8" stroke-width="0.75"/><line x1="363.3" y1="483.3" x2="366.3" y2="483.3" stroke="#000" stroke-opacity="0.55" stroke-width="0.5"/><line x1="363.3" y1="550.0" x2="366.3" y2="550.0" stroke="#000" stroke-opacity="0.55" stroke-width="0.5"/>
<rect x="366.3" y="472.5" width="2.4" height="10.8" fill="#00ee00"/><rect x="366.3" y="483.3" width="2.4" height="30.0" fill="#ffc000"/><rect x="366.3" y="513.3" width="2.4" height="38.4" fill="#ff4000"/><rect x="366.3" y="551.7" width="2.4" height="11.3" fill="#00ee00"/><rect x="366.3" y="472.5" width="2.4" height="90.5" fill="none" stroke="#000" stroke-opacity="0.8" stroke-width="0.75"/><line x1="366.3" y1="483.3" x2="368.7" y2="483.3" stroke="#000" stroke-opacity="0.55" stroke-width="0.5"/><line x1="366.3" y1="513.3" x2="368.7" y2="513.3" stroke="#000" stroke-opacity="0.55" stroke-width="0.5"/><line x1="366.3" y1="551.7" x2="368.7" y2="551.7" stroke="#000" stroke-opacity="0.55" stroke-width="0.5"/>
<rect x="373.3" y="472.5" width="3.4" height="14.2" fill="#00ee00"/><rect x="373.3" y="486.7" width="3.4" height="22.5" fill="#ffc000"/><rect x="373.3" y="509.2" width="3.4" height="40.0" fill="#ff0808"/><rect x="373.3" y="549.2" width="3.4" height="9.5" fill="#ffff00"/><rect x="373.3" y="472.5" width="3.4" height="86.2" fill="none" stroke="#000" stroke-opacity="0.8" stroke-width="0.75"/><line x1="373.3" y1="486.7" x2="376.7" y2="486.7" stroke="#000" stroke-opacity="0.55" stroke-width="0.5"/><line x1="373.3" y1="509.2" x2="376.7" y2="509.2" stroke="#000" stroke-opacity="0.55" stroke-width="0.5"/><line x1="373.3" y1="549.2" x2="376.7" y2="549.2" stroke="#000" stroke-opacity="0.55" stroke-width="0.5"/>
<rect x="378.0" y="471.7" width="3.2" height="10.0" fill="#80f000"/><rect x="378.0" y="481.7" width="3.2" height="38.6" fill="#ffc000"/><rect x="378.0" y="520.3" width="3.2" height="28.0" fill="#ff4000"/><rect x="378.0" y="548.3" width="3.2" height="10.0" fill="#08a030"/><rect x="378.0" y="471.7" width="3.2" height="86.6" fill="none" stroke="#000" stroke-opacity="0.8" stroke-width="0.75"/><line x1="378.0" y1="481.7" x2="381.2" y2="481.7" stroke="#000" stroke-opacity="0.55" stroke-width="0.5"/><line x1="378.0" y1="520.3" x2="381.2" y2="520.3" stroke="#000" stroke-opacity="0.55" stroke-width="0.5"/><line x1="378.0" y1="548.3" x2="381.2" y2="548.3" stroke="#000" stroke-opacity="0.55" stroke-width="0.5"/>
<rect x="385.0" y="471.7" width="3.0" height="2.3" fill="#0000a0"/><rect x="385.0" y="474.0" width="3.0" height="7.0" fill="#08a030"/><rect x="385.0" y="481.0" width="3.0" height="65.7" fill="#ff4000"/><rect x="385.0" y="546.7" width="3.0" height="10.0" fill="#80f000"/><rect x="385.0" y="471.7" width="3.0" height="85.0" fill="none" stroke="#000" stroke-opacity="0.8" stroke-width="0.75"/><line x1="385.0" y1="474.0" x2="388.0" y2="474.0" stroke="#000" stroke-opacity="0.55" stroke-width="0.5"/><line x1="385.0" y1="481.0" x2="388.0" y2="481.0" stroke="#000" stroke-opacity="0.55" stroke-width="0.5"/><line x1="385.0" y1="546.7" x2="388.0" y2="546.7" stroke="#000" stroke-opacity="0.55" stroke-width="0.5"/>
<rect x="389.2" y="470.8" width="2.8" height="6.7" fill="#00ee00"/><rect x="389.2" y="477.5" width="2.8" height="14.2" fill="#ffc000"/><rect x="389.2" y="491.7" width="2.8" height="55.8" fill="#ff4000"/><rect x="389.2" y="547.5" width="2.8" height="8.3" fill="#ffff00"/><rect x="389.2" y="470.8" width="2.8" height="85.0" fill="none" stroke="#000" stroke-opacity="0.8" stroke-width="0.75"/><line x1="389.2" y1="477.5" x2="392.0" y2="477.5" stroke="#000" stroke-opacity="0.55" stroke-width="0.5"/><line x1="389.2" y1="491.7" x2="392.0" y2="491.7" stroke="#000" stroke-opacity="0.55" stroke-width="0.5"/><line x1="389.2" y1="547.5" x2="392.0" y2="547.5" stroke="#000" stroke-opacity="0.55" stroke-width="0.5"/>
<rect x="391.7" y="471.7" width="3.3" height="6.6" fill="#00ee00"/><rect x="391.7" y="478.3" width="3.3" height="25.0" fill="#ffc000"/><rect x="391.7" y="503.3" width="3.3" height="46.7" fill="#ff4000"/><rect x="391.7" y="550.0" width="3.3" height="9.2" fill="#00ee00"/><rect x="391.7" y="471.7" width="3.3" height="87.5" fill="none" stroke="#000" stroke-opacity="0.8" stroke-width="0.75"/><line x1="391.7" y1="478.3" x2="395.0" y2="478.3" stroke="#000" stroke-opacity="0.55" stroke-width="0.5"/><line x1="391.7" y1="503.3" x2="395.0" y2="503.3" stroke="#000" stroke-opacity="0.55" stroke-width="0.5"/><line x1="391.7" y1="550.0" x2="395.0" y2="550.0" stroke="#000" stroke-opacity="0.55" stroke-width="0.5"/>
<rect x="396.3" y="470.8" width="2.4" height="7.5" fill="#0000a0"/><rect x="396.3" y="478.3" width="2.4" height="17.5" fill="#ffc000"/><rect x="396.3" y="495.8" width="2.4" height="50.9" fill="#ff4000"/><rect x="396.3" y="546.7" width="2.4" height="9.1" fill="#08a030"/><rect x="396.3" y="470.8" width="2.4" height="85.0" fill="none" stroke="#000" stroke-opacity="0.8" stroke-width="0.75"/><line x1="396.3" y1="478.3" x2="398.7" y2="478.3" stroke="#000" stroke-opacity="0.55" stroke-width="0.5"/><line x1="396.3" y1="495.8" x2="398.7" y2="495.8" stroke="#000" stroke-opacity="0.55" stroke-width="0.5"/><line x1="396.3" y1="546.7" x2="398.7" y2="546.7" stroke="#000" stroke-opacity="0.55" stroke-width="0.5"/>
<rect x="403.3" y="470.0" width="4.7" height="15.3" fill="#80f000"/><rect x="403.3" y="485.3" width="4.7" height="63.0" fill="#ff4000"/><rect x="403.3" y="548.3" width="4.7" height="9.2" fill="#08a030"/><rect x="403.3" y="470.0" width="4.7" height="87.5" fill="none" stroke="#000" stroke-opacity="0.8" stroke-width="0.75"/><line x1="403.3" y1="485.3" x2="408.0" y2="485.3" stroke="#000" stroke-opacity="0.55" stroke-width="0.5"/><line x1="403.3" y1="548.3" x2="408.0" y2="548.3" stroke="#000" stroke-opacity="0.55" stroke-width="0.5"/>
<rect x="414.7" y="468.3" width="5.6" height="19.2" fill="#80f000"/><rect x="414.7" y="487.5" width="5.6" height="10.8" fill="#ff8000"/><rect x="414.7" y="498.3" width="5.6" height="49.2" fill="#ff0808"/><rect x="414.7" y="547.5" width="5.6" height="8.3" fill="#ffff00"/><rect x="414.7" y="468.3" width="5.6" height="87.5" fill="none" stroke="#000" stroke-opacity="0.8" stroke-width="0.75"/><line x1="414.7" y1="487.5" x2="420.3" y2="487.5" stroke="#000" stroke-opacity="0.55" stroke-width="0.5"/><line x1="414.7" y1="498.3" x2="420.3" y2="498.3" stroke="#000" stroke-opacity="0.55" stroke-width="0.5"/><line x1="414.7" y1="547.5" x2="420.3" y2="547.5" stroke="#000" stroke-opacity="0.55" stroke-width="0.5"/>
<rect x="424.2" y="467.5" width="2.1" height="14.2" fill="#80f000"/><rect x="424.2" y="467.5" width="2.1" height="14.2" fill="none" stroke="#000" stroke-opacity="0.8" stroke-width="0.75"/>
<rect x="426.3" y="467.5" width="4.5" height="15.5" fill="#00ee00"/><rect x="426.3" y="483.0" width="4.5" height="17.3" fill="#ffc000"/><rect x="426.3" y="500.3" width="4.5" height="46.4" fill="#ff4000"/><rect x="426.3" y="546.7" width="4.5" height="8.3" fill="#ffff00"/><rect x="426.3" y="467.5" width="4.5" height="87.5" fill="none" stroke="#000" stroke-opacity="0.8" stroke-width="0.75"/><line x1="426.3" y1="483.0" x2="430.8" y2="483.0" stroke="#000" stroke-opacity="0.55" stroke-width="0.5"/><line x1="426.3" y1="500.3" x2="430.8" y2="500.3" stroke="#000" stroke-opacity="0.55" stroke-width="0.5"/><line x1="426.3" y1="546.7" x2="430.8" y2="546.7" stroke="#000" stroke-opacity="0.55" stroke-width="0.5"/>
<rect x="432.8" y="466.7" width="2.5" height="17.0" fill="#00ee00"/><rect x="432.8" y="483.7" width="2.5" height="8.8" fill="#ffc000"/><rect x="432.8" y="466.7" width="2.5" height="25.8" fill="none" stroke="#000" stroke-opacity="0.8" stroke-width="0.75"/><line x1="432.8" y1="483.7" x2="435.3" y2="483.7" stroke="#000" stroke-opacity="0.55" stroke-width="0.5"/>
<rect x="438.0" y="466.7" width="2.8" height="8.3" fill="#0000a0"/><rect x="438.0" y="475.0" width="2.8" height="13.3" fill="#00ee00"/><rect x="438.0" y="488.3" width="2.8" height="10.0" fill="#ffc000"/><rect x="438.0" y="498.3" width="2.8" height="42.5" fill="#ff4000"/><rect x="438.0" y="540.8" width="2.8" height="9.5" fill="#80f000"/><rect x="438.0" y="466.7" width="2.8" height="83.6" fill="none" stroke="#000" stroke-opacity="0.8" stroke-width="0.75"/><line x1="438.0" y1="475.0" x2="440.8" y2="475.0" stroke="#000" stroke-opacity="0.55" stroke-width="0.5"/><line x1="438.0" y1="488.3" x2="440.8" y2="488.3" stroke="#000" stroke-opacity="0.55" stroke-width="0.5"/><line x1="438.0" y1="498.3" x2="440.8" y2="498.3" stroke="#000" stroke-opacity="0.55" stroke-width="0.5"/><line x1="438.0" y1="540.8" x2="440.8" y2="540.8" stroke="#000" stroke-opacity="0.55" stroke-width="0.5"/>
<rect x="458.3" y="464.2" width="5.4" height="8.3" fill="#0000a0"/><rect x="458.3" y="472.5" width="5.4" height="15.0" fill="#80f000"/><rect x="458.3" y="487.5" width="5.4" height="16.7" fill="#ffc000"/><rect x="458.3" y="504.2" width="5.4" height="22.1" fill="#ff8000"/><rect x="458.3" y="526.3" width="5.4" height="10.4" fill="#00ee00"/><rect x="458.3" y="464.2" width="5.4" height="72.5" fill="none" stroke="#000" stroke-opacity="0.8" stroke-width="0.75"/><line x1="458.3" y1="472.5" x2="463.7" y2="472.5" stroke="#000" stroke-opacity="0.55" stroke-width="0.5"/><line x1="458.3" y1="487.5" x2="463.7" y2="487.5" stroke="#000" stroke-opacity="0.55" stroke-width="0.5"/><line x1="458.3" y1="504.2" x2="463.7" y2="504.2" stroke="#000" stroke-opacity="0.55" stroke-width="0.5"/><line x1="458.3" y1="526.3" x2="463.7" y2="526.3" stroke="#000" stroke-opacity="0.55" stroke-width="0.5"/>
<rect x="464.7" y="463.3" width="2.8" height="22.5" fill="#80f000"/><rect x="464.7" y="485.8" width="2.8" height="41.7" fill="#ff4000"/><rect x="464.7" y="527.5" width="2.8" height="10.5" fill="#0000a0"/><rect x="464.7" y="463.3" width="2.8" height="74.7" fill="none" stroke="#000" stroke-opacity="0.8" stroke-width="0.75"/><line x1="464.7" y1="485.8" x2="467.5" y2="485.8" stroke="#000" stroke-opacity="0.55" stroke-width="0.5"/><line x1="464.7" y1="527.5" x2="467.5" y2="527.5" stroke="#000" stroke-opacity="0.55" stroke-width="0.5"/>
<rect x="469.2" y="462.5" width="4.5" height="25.8" fill="#80f000"/><rect x="469.2" y="488.3" width="4.5" height="6.4" fill="#ffff00"/><rect x="469.2" y="494.7" width="4.5" height="29.5" fill="#ff4000"/><rect x="469.2" y="524.2" width="4.5" height="10.0" fill="#00ee00"/><rect x="469.2" y="462.5" width="4.5" height="71.7" fill="none" stroke="#000" stroke-opacity="0.8" stroke-width="0.75"/><line x1="469.2" y1="488.3" x2="473.7" y2="488.3" stroke="#000" stroke-opacity="0.55" stroke-width="0.5"/><line x1="469.2" y1="494.7" x2="473.7" y2="494.7" stroke="#000" stroke-opacity="0.55" stroke-width="0.5"/><line x1="469.2" y1="524.2" x2="473.7" y2="524.2" stroke="#000" stroke-opacity="0.55" stroke-width="0.5"/>
<rect x="482.2" y="461.7" width="4.5" height="23.6" fill="#00ee00"/><rect x="482.2" y="485.3" width="4.5" height="16.0" fill="#80f000"/><rect x="482.2" y="501.3" width="4.5" height="29.5" fill="#ff8000"/><rect x="482.2" y="530.8" width="4.5" height="9.7" fill="#00ee00"/><rect x="482.2" y="461.7" width="4.5" height="78.8" fill="none" stroke="#000" stroke-opacity="0.8" stroke-width="0.75"/><line x1="482.2" y1="485.3" x2="486.7" y2="485.3" stroke="#000" stroke-opacity="0.55" stroke-width="0.5"/><line x1="482.2" y1="501.3" x2="486.7" y2="501.3" stroke="#000" stroke-opacity="0.55" stroke-width="0.5"/><line x1="482.2" y1="530.8" x2="486.7" y2="530.8" stroke="#000" stroke-opacity="0.55" stroke-width="0.5"/>
<rect x="492.5" y="460.8" width="5.8" height="11.7" fill="#08a030"/><rect x="492.5" y="472.5" width="5.8" height="11.7" fill="#ffff00"/><rect x="492.5" y="484.2" width="5.8" height="10.0" fill="#ff8000"/><rect x="492.5" y="460.8" width="5.8" height="33.4" fill="none" stroke="#000" stroke-opacity="0.8" stroke-width="0.75"/><line x1="492.5" y1="472.5" x2="498.3" y2="472.5" stroke="#000" stroke-opacity="0.55" stroke-width="0.5"/><line x1="492.5" y1="484.2" x2="498.3" y2="484.2" stroke="#000" stroke-opacity="0.55" stroke-width="0.5"/>
<rect x="504.2" y="459.2" width="2.8" height="30.8" fill="#00ee00"/><rect x="504.2" y="490.0" width="2.8" height="10.0" fill="#ff8000"/><rect x="504.2" y="459.2" width="2.8" height="40.8" fill="none" stroke="#000" stroke-opacity="0.8" stroke-width="0.75"/><line x1="504.2" y1="490.0" x2="507.0" y2="490.0" stroke="#000" stroke-opacity="0.55" stroke-width="0.5"/>
<rect x="506.7" y="458.3" width="2.8" height="30.0" fill="#00ee00"/><rect x="506.7" y="488.3" width="2.8" height="42.5" fill="#ff4000"/><rect x="506.7" y="530.8" width="2.8" height="9.2" fill="#08a030"/><rect x="506.7" y="458.3" width="2.8" height="81.7" fill="none" stroke="#000" stroke-opacity="0.8" stroke-width="0.75"/><line x1="506.7" y1="488.3" x2="509.5" y2="488.3" stroke="#000" stroke-opacity="0.55" stroke-width="0.5"/><line x1="506.7" y1="530.8" x2="509.5" y2="530.8" stroke="#000" stroke-opacity="0.55" stroke-width="0.5"/>
<rect x="512.5" y="460.8" width="2.8" height="29.2" fill="#00ee00"/><rect x="512.5" y="490.0" width="2.8" height="42.5" fill="#ff4000"/><rect x="512.5" y="532.5" width="2.8" height="9.5" fill="#0000a0"/><rect x="512.5" y="460.8" width="2.8" height="81.2" fill="none" stroke="#000" stroke-opacity="0.8" stroke-width="0.75"/><line x1="512.5" y1="490.0" x2="515.3" y2="490.0" stroke="#000" stroke-opacity="0.55" stroke-width="0.5"/><line x1="512.5" y1="532.5" x2="515.3" y2="532.5" stroke="#000" stroke-opacity="0.55" stroke-width="0.5"/>
<rect x="515.0" y="460.0" width="2.2" height="23.3" fill="#00ee00"/><rect x="515.0" y="483.3" width="2.2" height="8.4" fill="#ff0808"/><rect x="515.0" y="460.0" width="2.2" height="31.7" fill="none" stroke="#000" stroke-opacity="0.8" stroke-width="0.75"/><line x1="515.0" y1="483.3" x2="517.2" y2="483.3" stroke="#000" stroke-opacity="0.55" stroke-width="0.5"/>
<rect x="516.7" y="460.0" width="2.5" height="30.0" fill="#80f000"/><rect x="516.7" y="490.0" width="2.5" height="12.5" fill="#ffc000"/><rect x="516.7" y="502.5" width="2.5" height="8.8" fill="#ff4000"/><rect x="516.7" y="460.0" width="2.5" height="51.3" fill="none" stroke="#000" stroke-opacity="0.8" stroke-width="0.75"/><line x1="516.7" y1="490.0" x2="519.2" y2="490.0" stroke="#000" stroke-opacity="0.55" stroke-width="0.5"/><line x1="516.7" y1="502.5" x2="519.2" y2="502.5" stroke="#000" stroke-opacity="0.55" stroke-width="0.5"/>
<rect x="523.6" y="458.7" width="4.7" height="28.0" fill="#00ee00"/><rect x="523.6" y="486.7" width="4.7" height="12.5" fill="#ffc000"/><rect x="523.6" y="499.2" width="4.7" height="9.6" fill="#ff4000"/><rect x="523.6" y="458.7" width="4.7" height="50.1" fill="none" stroke="#000" stroke-opacity="0.8" stroke-width="0.75"/><line x1="523.6" y1="486.7" x2="528.3" y2="486.7" stroke="#000" stroke-opacity="0.55" stroke-width="0.5"/><line x1="523.6" y1="499.2" x2="528.3" y2="499.2" stroke="#000" stroke-opacity="0.55" stroke-width="0.5"/>
<rect x="533.8" y="457.5" width="4.8" height="20.0" fill="#80f000"/><rect x="533.8" y="477.5" width="4.8" height="6.7" fill="#ff4000"/><rect x="533.8" y="484.2" width="4.8" height="9.1" fill="#ff0808"/><rect x="533.8" y="457.5" width="4.8" height="35.8" fill="none" stroke="#000" stroke-opacity="0.8" stroke-width="0.75"/><line x1="533.8" y1="477.5" x2="538.6" y2="477.5" stroke="#000" stroke-opacity="0.55" stroke-width="0.5"/><line x1="533.8" y1="484.2" x2="538.6" y2="484.2" stroke="#000" stroke-opacity="0.55" stroke-width="0.5"/>
<rect x="544.7" y="455.8" width="5.0" height="6.7" fill="#0000a0"/><rect x="544.7" y="462.5" width="5.0" height="29.2" fill="#08a030"/><rect x="544.7" y="491.7" width="5.0" height="39.5" fill="#ff4000"/><rect x="544.7" y="531.2" width="5.0" height="8.8" fill="#ffff00"/><rect x="544.7" y="455.8" width="5.0" height="84.2" fill="none" stroke="#000" stroke-opacity="0.8" stroke-width="0.75"/><line x1="544.7" y1="462.5" x2="549.7" y2="462.5" stroke="#000" stroke-opacity="0.55" stroke-width="0.5"/><line x1="544.7" y1="491.7" x2="549.7" y2="491.7" stroke="#000" stroke-opacity="0.55" stroke-width="0.5"/><line x1="544.7" y1="531.2" x2="549.7" y2="531.2" stroke="#000" stroke-opacity="0.55" stroke-width="0.5"/>
<rect x="587.2" y="451.7" width="4.5" height="12.1" fill="#0000a0"/><rect x="587.2" y="463.8" width="4.5" height="15.4" fill="#08a030"/><rect x="587.2" y="479.2" width="4.5" height="9.1" fill="#ffc000"/><rect x="587.2" y="451.7" width="4.5" height="36.6" fill="none" stroke="#000" stroke-opacity="0.8" stroke-width="0.75"/><line x1="587.2" y1="463.8" x2="591.7" y2="463.8" stroke="#000" stroke-opacity="0.55" stroke-width="0.5"/><line x1="587.2" y1="479.2" x2="591.7" y2="479.2" stroke="#000" stroke-opacity="0.55" stroke-width="0.5"/>
<rect x="635.8" y="450.8" width="5.0" height="4.2" fill="#0000a0"/><rect x="635.8" y="455.0" width="5.0" height="25.8" fill="#08a030"/><rect x="635.8" y="480.8" width="5.0" height="47.5" fill="#ffc000"/><rect x="635.8" y="528.3" width="5.0" height="9.7" fill="#80f000"/><rect x="635.8" y="450.8" width="5.0" height="87.2" fill="none" stroke="#000" stroke-opacity="0.8" stroke-width="0.75"/><line x1="635.8" y1="455.0" x2="640.8" y2="455.0" stroke="#000" stroke-opacity="0.55" stroke-width="0.5"/><line x1="635.8" y1="480.8" x2="640.8" y2="480.8" stroke="#000" stroke-opacity="0.55" stroke-width="0.5"/><line x1="635.8" y1="528.3" x2="640.8" y2="528.3" stroke="#000" stroke-opacity="0.55" stroke-width="0.5"/>
<rect x="663.0" y="448.7" width="4.5" height="39.5" fill="#0000a0"/><rect x="663.0" y="488.2" width="4.5" height="39.3" fill="#ff0808"/><rect x="663.0" y="527.5" width="4.5" height="10.5" fill="#ffff00"/><rect x="663.0" y="448.7" width="4.5" height="89.3" fill="none" stroke="#000" stroke-opacity="0.8" stroke-width="0.75"/><line x1="663.0" y1="488.2" x2="667.5" y2="488.2" stroke="#000" stroke-opacity="0.55" stroke-width="0.5"/><line x1="663.0" y1="527.5" x2="667.5" y2="527.5" stroke="#000" stroke-opacity="0.55" stroke-width="0.5"/>
<rect x="723.2" y="456.2" width="5.5" height="49.3" fill="#0000a0"/><rect x="723.2" y="505.5" width="5.5" height="37.5" fill="#ff4000"/><rect x="723.2" y="543.0" width="5.5" height="9.5" fill="#08a030"/><rect x="723.2" y="456.2" width="5.5" height="96.3" fill="none" stroke="#000" stroke-opacity="0.8" stroke-width="0.75"/><line x1="723.2" y1="505.5" x2="728.7" y2="505.5" stroke="#000" stroke-opacity="0.55" stroke-width="0.5"/><line x1="723.2" y1="543.0" x2="728.7" y2="543.0" stroke="#000" stroke-opacity="0.55" stroke-width="0.5"/>
<rect x="773.7" y="454.5" width="5.5" height="18.7" fill="#0000a0"/><rect x="773.7" y="473.2" width="5.5" height="56.8" fill="#80f000"/><rect x="773.7" y="530.0" width="5.5" height="10.0" fill="#ffc000"/><rect x="773.7" y="454.5" width="5.5" height="85.5" fill="none" stroke="#000" stroke-opacity="0.8" stroke-width="0.75"/><line x1="773.7" y1="473.2" x2="779.2" y2="473.2" stroke="#000" stroke-opacity="0.55" stroke-width="0.5"/><line x1="773.7" y1="530.0" x2="779.2" y2="530.0" stroke="#000" stroke-opacity="0.55" stroke-width="0.5"/>
<line x1="162.5" y1="475.0" x2="162.5" y2="563.0" stroke="#000" stroke-width="0.9" stroke-opacity="0.85"/>
<line x1="167.6" y1="475.0" x2="167.6" y2="563.0" stroke="#000" stroke-width="0.9" stroke-opacity="0.85"/>
<line x1="232.5" y1="473.0" x2="232.5" y2="554.0" stroke="#000" stroke-width="0.9" stroke-opacity="0.85"/>
<line x1="237.6" y1="473.0" x2="237.6" y2="554.0" stroke="#000" stroke-width="0.9" stroke-opacity="0.85"/>
<line x1="297.5" y1="473.0" x2="297.5" y2="562.5" stroke="#000" stroke-width="0.9" stroke-opacity="0.85"/>
<line x1="303.8" y1="473.0" x2="303.8" y2="562.5" stroke="#000" stroke-width="0.9" stroke-opacity="0.85"/>
<line x1="253.8" y1="473.0" x2="253.8" y2="510.5" stroke="#000" stroke-width="0.9" stroke-opacity="0.85"/>
<line x1="549.8" y1="455.8" x2="549.8" y2="540.0" stroke="#000" stroke-width="0.9" stroke-opacity="0.85"/>
<line x1="640.9" y1="450.8" x2="640.9" y2="538.0" stroke="#000" stroke-width="0.9" stroke-opacity="0.85"/>
<line x1="667.6" y1="448.7" x2="667.6" y2="538.0" stroke="#000" stroke-width="0.9" stroke-opacity="0.85"/>
<line x1="728.8" y1="456.2" x2="728.8" y2="552.5" stroke="#000" stroke-width="0.9" stroke-opacity="0.85"/>
<line x1="408.1" y1="470.0" x2="408.1" y2="557.5" stroke="#000" stroke-width="0.9" stroke-opacity="0.85"/>
<line x1="440.9" y1="466.7" x2="440.9" y2="550.0" stroke="#000" stroke-width="0.9" stroke-opacity="0.85"/>
<line x1="387.5" y1="469.0" x2="387.5" y2="690.0" stroke="#a68a4c" stroke-width="0.8"/>
<line x1="383.0" y1="573.7" x2="392.0" y2="573.7" stroke="#8a6414" stroke-width="1.5"/>
<line x1="383.0" y1="690.0" x2="392.0" y2="690.0" stroke="#8a6414" stroke-width="1.5"/>
<line x1="412.8" y1="469.0" x2="412.8" y2="611.2" stroke="#8a6414" stroke-width="1.4"/>
<line x1="408.8" y1="558.0" x2="416.8" y2="558.0" stroke="#8a6414" stroke-width="1.5"/>
<line x1="408.8" y1="611.2" x2="416.8" y2="611.2" stroke="#8a6414" stroke-width="1.5"/>
<line x1="625.5" y1="450.8" x2="625.5" y2="736.0" stroke="#8a6414" stroke-width="1.2"/>
<line x1="621.1" y1="535.8" x2="630.1" y2="535.8" stroke="#8a6414" stroke-width="1.4"/>
<line x1="621.1" y1="732.0" x2="630.1" y2="732.0" stroke="#8a6414" stroke-width="1.4"/>
<line x1="621.5" y1="705.5" x2="631.0" y2="705.5" stroke="#7aa850" stroke-width="0.7"/>
<text x="411.7" y="626.3" font-size="9.8" text-anchor="start" fill="#8a6414" textLength="11.5" lengthAdjust="spacingAndGlyphs" stroke="#8a6414" stroke-width="0.35">H1</text>
<text x="397.0" y="683.2" font-size="9.8" text-anchor="start" fill="#8a6414" textLength="19.0" lengthAdjust="spacingAndGlyphs" stroke="#8a6414" stroke-width="0.35">H40</text>
<text x="595.0" y="730.6" font-size="9.8" text-anchor="start" fill="#8a6414" textLength="19.5" lengthAdjust="spacingAndGlyphs" stroke="#8a6414" stroke-width="0.35">H18</text>
<line x1="393.7" y1="536.3" x2="653.7" y2="572.5" stroke="#4c8220" stroke-width="2.4"/>
<line x1="406.2" y1="573.7" x2="661.2" y2="630.5" stroke="#4c8220" stroke-width="2.4"/>
<line x1="577.0" y1="652.0" x2="662.0" y2="666.7" stroke="#4c8220" stroke-width="2.2"/>
<line x1="577.0" y1="696.2" x2="659.2" y2="708.7" stroke="#4c8220" stroke-width="2.2"/>
<text x="659.5" y="578.3" font-size="15.5" fill="#4c8220" stroke="#fff" stroke-width="0.2" textLength="33" lengthAdjust="spacingAndGlyphs">150<tspan font-size="11" dy="-4.5">o</tspan></text>
<text x="667.0" y="636.8" font-size="15.5" fill="#4c8220" stroke="#fff" stroke-width="0.2" textLength="33" lengthAdjust="spacingAndGlyphs">200<tspan font-size="11" dy="-4.5">o</tspan></text>
<text x="668.7" y="672.7" font-size="15.5" fill="#4c8220" stroke="#fff" stroke-width="0.2" textLength="33" lengthAdjust="spacingAndGlyphs">250<tspan font-size="11" dy="-4.5">o</tspan></text>
<text x="668.0" y="715.8" font-size="15.5" fill="#4c8220" stroke="#fff" stroke-width="0.2" textLength="33" lengthAdjust="spacingAndGlyphs">300<tspan font-size="11" dy="-4.5">o</tspan></text>
<line x1="302.5" y1="448.7" x2="302.5" y2="470.0" stroke="#333" stroke-width="0.6"/>
<line x1="300.5" y1="449.0" x2="304.5" y2="449.0" stroke="#111" stroke-width="1.2"/>
<line x1="302.5" y1="448.7" x2="302.5" y2="451.3" stroke="#222" stroke-width="1.0"/>
<line x1="312.5" y1="447.0" x2="312.5" y2="470.0" stroke="#333" stroke-width="0.6"/>
<line x1="310.5" y1="447.3" x2="314.5" y2="447.3" stroke="#111" stroke-width="1.2"/>
<line x1="312.5" y1="447.0" x2="312.5" y2="449.8" stroke="#222" stroke-width="1.0"/>
<line x1="323.2" y1="448.7" x2="322.5" y2="470.0" stroke="#333" stroke-width="0.6"/>
<line x1="321.2" y1="449.0" x2="325.2" y2="449.0" stroke="#111" stroke-width="1.2"/>
<line x1="323.2" y1="448.7" x2="323.1" y2="451.3" stroke="#222" stroke-width="1.0"/>
<line x1="333.5" y1="447.0" x2="333.5" y2="470.0" stroke="#333" stroke-width="0.6"/>
<line x1="331.7" y1="447.3" x2="335.7" y2="447.3" stroke="#111" stroke-width="1.2"/>
<line x1="333.5" y1="447.0" x2="333.5" y2="449.8" stroke="#222" stroke-width="1.0"/>
<line x1="345.3" y1="449.2" x2="344.2" y2="470.8" stroke="#333" stroke-width="0.6"/>
<line x1="343.3" y1="449.5" x2="347.3" y2="449.5" stroke="#111" stroke-width="1.2"/>
<line x1="345.3" y1="449.2" x2="345.2" y2="451.8" stroke="#222" stroke-width="1.0"/>
<line x1="354.5" y1="447.5" x2="354.5" y2="470.8" stroke="#333" stroke-width="0.6"/>
<line x1="352.5" y1="447.8" x2="356.5" y2="447.8" stroke="#111" stroke-width="1.2"/>
<line x1="354.5" y1="447.5" x2="354.5" y2="450.3" stroke="#222" stroke-width="1.0"/>
<line x1="363.7" y1="450.8" x2="365.8" y2="470.8" stroke="#333" stroke-width="0.6"/>
<line x1="361.7" y1="451.1" x2="365.7" y2="451.1" stroke="#111" stroke-width="1.2"/>
<line x1="363.7" y1="450.8" x2="364.0" y2="453.2" stroke="#222" stroke-width="1.0"/>
<line x1="375.0" y1="450.3" x2="375.3" y2="470.8" stroke="#333" stroke-width="0.6"/>
<line x1="373.0" y1="450.6" x2="377.0" y2="450.6" stroke="#111" stroke-width="1.2"/>
<line x1="375.0" y1="450.3" x2="375.0" y2="452.8" stroke="#222" stroke-width="1.0"/>
<line x1="387.5" y1="449.7" x2="385.8" y2="470.0" stroke="#333" stroke-width="0.6"/>
<line x1="385.5" y1="450.0" x2="389.5" y2="450.0" stroke="#111" stroke-width="1.2"/>
<line x1="387.5" y1="449.7" x2="387.3" y2="452.1" stroke="#222" stroke-width="1.0"/>
<line x1="418.5" y1="447.5" x2="418.5" y2="466.7" stroke="#333" stroke-width="0.6"/>
<line x1="416.3" y1="447.8" x2="420.3" y2="447.8" stroke="#111" stroke-width="1.2"/>
<line x1="418.5" y1="447.5" x2="418.5" y2="449.8" stroke="#222" stroke-width="1.0"/>
<line x1="429.2" y1="445.8" x2="430.0" y2="465.8" stroke="#333" stroke-width="0.6"/>
<line x1="427.2" y1="446.1" x2="431.2" y2="446.1" stroke="#111" stroke-width="1.2"/>
<line x1="429.2" y1="445.8" x2="429.3" y2="448.2" stroke="#222" stroke-width="1.0"/>
<line x1="435.8" y1="445.8" x2="439.2" y2="465.0" stroke="#333" stroke-width="0.6"/>
<line x1="433.8" y1="446.1" x2="437.8" y2="446.1" stroke="#111" stroke-width="1.2"/>
<line x1="435.8" y1="445.8" x2="436.2" y2="448.1" stroke="#222" stroke-width="1.0"/>
<line x1="444.2" y1="446.7" x2="440.0" y2="465.0" stroke="#333" stroke-width="0.6"/>
<line x1="442.2" y1="447.0" x2="446.2" y2="447.0" stroke="#111" stroke-width="1.2"/>
<line x1="444.2" y1="446.7" x2="443.7" y2="448.9" stroke="#222" stroke-width="1.0"/>
<line x1="459.2" y1="447.5" x2="461.7" y2="462.5" stroke="#333" stroke-width="0.6"/>
<line x1="457.2" y1="447.8" x2="461.2" y2="447.8" stroke="#111" stroke-width="1.2"/>
<line x1="459.2" y1="447.5" x2="459.5" y2="449.3" stroke="#222" stroke-width="1.0"/>
<line x1="471.5" y1="443.7" x2="471.5" y2="461.3" stroke="#333" stroke-width="0.6"/>
<line x1="469.7" y1="444.0" x2="473.7" y2="444.0" stroke="#111" stroke-width="1.2"/>
<line x1="471.5" y1="443.7" x2="471.5" y2="445.8" stroke="#222" stroke-width="1.0"/>
<line x1="485.5" y1="442.5" x2="485.5" y2="460.8" stroke="#333" stroke-width="0.6"/>
<line x1="483.8" y1="442.8" x2="487.8" y2="442.8" stroke="#111" stroke-width="1.2"/>
<line x1="485.5" y1="442.5" x2="485.5" y2="444.7" stroke="#222" stroke-width="1.0"/>
<line x1="496.3" y1="440.0" x2="495.8" y2="459.7" stroke="#333" stroke-width="0.6"/>
<line x1="494.3" y1="440.3" x2="498.3" y2="440.3" stroke="#111" stroke-width="1.2"/>
<line x1="496.3" y1="440.0" x2="496.2" y2="442.4" stroke="#222" stroke-width="1.0"/>
<line x1="502.5" y1="441.7" x2="506.7" y2="457.5" stroke="#333" stroke-width="0.6"/>
<line x1="500.5" y1="442.0" x2="504.5" y2="442.0" stroke="#111" stroke-width="1.2"/>
<line x1="502.5" y1="441.7" x2="503.0" y2="443.6" stroke="#222" stroke-width="1.0"/>
<line x1="511.7" y1="441.7" x2="516.7" y2="458.3" stroke="#333" stroke-width="0.6"/>
<line x1="509.7" y1="442.0" x2="513.7" y2="442.0" stroke="#111" stroke-width="1.2"/>
<line x1="511.7" y1="441.7" x2="512.3" y2="443.7" stroke="#222" stroke-width="1.0"/>
<line x1="521.7" y1="440.0" x2="518.3" y2="458.3" stroke="#333" stroke-width="0.6"/>
<line x1="519.7" y1="440.3" x2="523.7" y2="440.3" stroke="#111" stroke-width="1.2"/>
<line x1="521.7" y1="440.0" x2="521.3" y2="442.2" stroke="#222" stroke-width="1.0"/>
<line x1="525.5" y1="438.3" x2="525.5" y2="457.5" stroke="#333" stroke-width="0.6"/>
<line x1="523.3" y1="438.6" x2="527.3" y2="438.6" stroke="#111" stroke-width="1.2"/>
<line x1="525.5" y1="438.3" x2="525.5" y2="440.6" stroke="#222" stroke-width="1.0"/>
<line x1="537.5" y1="439.7" x2="536.3" y2="456.7" stroke="#333" stroke-width="0.6"/>
<line x1="535.5" y1="440.0" x2="539.5" y2="440.0" stroke="#111" stroke-width="1.2"/>
<line x1="537.5" y1="439.7" x2="537.4" y2="441.7" stroke="#222" stroke-width="1.0"/>
<line x1="390.0" y1="465.5" x2="398.3" y2="465.5" stroke="#333" stroke-width="0.8"/>
<line x1="332.0" y1="468.4" x2="335.5" y2="468.4" stroke="#222" stroke-width="1.6"/>
<circle cx="131.3" cy="471.8" r="1.3" fill="none" stroke="#a868f0" stroke-width="0.8"/>
<circle cx="165.8" cy="472.1" r="1.3" fill="none" stroke="#a868f0" stroke-width="0.8"/>
<circle cx="199.8" cy="472.0" r="1.3" fill="none" stroke="#a868f0" stroke-width="0.8"/>
<circle cx="235.8" cy="472.0" r="1.3" fill="none" stroke="#a868f0" stroke-width="0.8"/>
<circle cx="250.8" cy="471.9" r="1.3" fill="none" stroke="#a868f0" stroke-width="0.8"/>
<circle cx="296.3" cy="471.8" r="1.3" fill="none" stroke="#a868f0" stroke-width="0.8"/>
<circle cx="301.3" cy="471.8" r="1.3" fill="none" stroke="#a868f0" stroke-width="0.8"/>
<circle cx="311.3" cy="471.6" r="1.3" fill="none" stroke="#a868f0" stroke-width="0.8"/>
<circle cx="322.8" cy="471.5" r="1.3" fill="none" stroke="#a868f0" stroke-width="0.8"/>
<circle cx="332.8" cy="471.3" r="1.3" fill="none" stroke="#a868f0" stroke-width="0.8"/>
<circle cx="344.3" cy="471.1" r="1.3" fill="none" stroke="#a868f0" stroke-width="0.8"/>
<circle cx="354.3" cy="471.0" r="1.3" fill="none" stroke="#a868f0" stroke-width="0.8"/>
<circle cx="366.6" cy="470.8" r="1.3" fill="none" stroke="#a868f0" stroke-width="0.8"/>
<circle cx="375.8" cy="470.3" r="1.3" fill="none" stroke="#a868f0" stroke-width="0.8"/>
<circle cx="386.6" cy="469.7" r="1.3" fill="none" stroke="#a868f0" stroke-width="0.8"/>
<circle cx="392.8" cy="469.3" r="1.3" fill="none" stroke="#a868f0" stroke-width="0.8"/>
<circle cx="398.3" cy="468.9" r="1.3" fill="none" stroke="#a868f0" stroke-width="0.8"/>
<circle cx="406.3" cy="468.3" r="1.3" fill="none" stroke="#a868f0" stroke-width="0.8"/>
<circle cx="419.1" cy="466.8" r="1.3" fill="none" stroke="#a868f0" stroke-width="0.8"/>
<circle cx="430.8" cy="465.6" r="1.3" fill="none" stroke="#a868f0" stroke-width="0.8"/>
<circle cx="440.0" cy="464.9" r="1.3" fill="none" stroke="#a868f0" stroke-width="0.8"/>
<circle cx="462.5" cy="462.0" r="1.3" fill="none" stroke="#a868f0" stroke-width="0.8"/>
<circle cx="472.5" cy="461.3" r="1.3" fill="none" stroke="#a868f0" stroke-width="0.8"/>
<circle cx="486.6" cy="460.2" r="1.3" fill="none" stroke="#a868f0" stroke-width="0.8"/>
<circle cx="496.6" cy="459.1" r="1.3" fill="none" stroke="#a868f0" stroke-width="0.8"/>
<circle cx="507.5" cy="458.4" r="1.3" fill="none" stroke="#a868f0" stroke-width="0.8"/>
<circle cx="517.8" cy="457.9" r="1.3" fill="none" stroke="#a868f0" stroke-width="0.8"/>
<circle cx="526.1" cy="457.5" r="1.3" fill="none" stroke="#a868f0" stroke-width="0.8"/>
<circle cx="537.1" cy="455.9" r="1.3" fill="none" stroke="#a868f0" stroke-width="0.8"/>
<circle cx="547.8" cy="454.5" r="1.3" fill="none" stroke="#a868f0" stroke-width="0.8"/>
<circle cx="590.3" cy="450.3" r="1.3" fill="none" stroke="#a868f0" stroke-width="0.8"/>
<circle cx="639.1" cy="450.3" r="1.3" fill="none" stroke="#a868f0" stroke-width="0.8"/>
<circle cx="666.1" cy="448.2" r="1.3" fill="none" stroke="#a868f0" stroke-width="0.8"/>
<circle cx="726.8" cy="455.7" r="1.3" fill="none" stroke="#a868f0" stroke-width="0.8"/>
<circle cx="777.3" cy="454.9" r="1.3" fill="none" stroke="#a868f0" stroke-width="0.8"/>
<text x="603.0" y="474.3" font-size="16.5" text-anchor="start" fill="#000" stroke="#fff" stroke-width="0.25" textLength="23.0" lengthAdjust="spacingAndGlyphs">top</text>
<text x="564.0" y="554.8" font-size="16" text-anchor="start" fill="#000" stroke="#fff" stroke-width="0.25" textLength="56.0" lengthAdjust="spacingAndGlyphs">bottom</text>
<text x="252.0" y="625.5" font-size="14.5" text-anchor="start" fill="#000" stroke="#fff" stroke-width="0.18" textLength="67.0" lengthAdjust="spacingAndGlyphs">reservoir</text>
<line x1="331.2" y1="615.7" x2="380.0" y2="576.7" stroke="#222" stroke-width="0.8"/>
<line x1="330.0" y1="629.5" x2="383.7" y2="685.5" stroke="#222" stroke-width="0.8"/>
<path d="M197.4 738.8V700.3H212.5A8.8 9.8 0 0 1 212.5 719.9H197.4" fill="none" stroke="#4a4a4a" stroke-width="2.4" stroke-linejoin="miter"/>
<path d="M197.4 738.8V700.3H212.5A8.8 9.8 0 0 1 212.5 719.9H197.4" fill="none" stroke="#fff" stroke-width="1.3499999999999999" stroke-linejoin="miter"/>
<path d="M236.5 700.3H257.2L243.8 714.2A13.5 12 0 1 1 233.4 731.5" fill="none" stroke="#4a4a4a" stroke-width="2.4" stroke-linejoin="miter"/>
<path d="M236.5 700.3H257.2L243.8 714.2A13.5 12 0 1 1 233.4 731.5" fill="none" stroke="#fff" stroke-width="1.3499999999999999" stroke-linejoin="miter"/>
<rect x="932.5" y="211.0" width="30.2" height="39.4" fill="#0000a0"/>
<rect x="932.5" y="250.4" width="30.2" height="39.4" fill="#08a030"/>
<rect x="932.5" y="289.8" width="30.2" height="39.4" fill="#00ee00"/>
<rect x="932.5" y="329.2" width="30.2" height="39.2" fill="#80f000"/>
<rect x="932.5" y="368.4" width="30.2" height="40.0" fill="#ffff00"/>
<rect x="932.5" y="408.4" width="30.2" height="39.1" fill="#ffc000"/>
<rect x="932.5" y="447.5" width="30.2" height="38.7" fill="#ff8000"/>
<rect x="932.5" y="486.2" width="30.2" height="39.1" fill="#ff4000"/>
<rect x="932.5" y="525.3" width="30.2" height="39.3" fill="#ff0000"/>
<line x1="932.5" y1="211.5" x2="962.7" y2="211.5" stroke="#000" stroke-width="0.6" stroke-opacity="0.6"/>
<line x1="932.5" y1="250.5" x2="962.7" y2="250.5" stroke="#000" stroke-width="0.6" stroke-opacity="0.6"/>
<line x1="932.5" y1="289.5" x2="962.7" y2="289.5" stroke="#000" stroke-width="0.6" stroke-opacity="0.6"/>
<line x1="932.5" y1="329.5" x2="962.7" y2="329.5" stroke="#000" stroke-width="0.6" stroke-opacity="0.6"/>
<line x1="932.5" y1="368.5" x2="962.7" y2="368.5" stroke="#000" stroke-width="0.6" stroke-opacity="0.6"/>
<line x1="932.5" y1="408.5" x2="962.7" y2="408.5" stroke="#000" stroke-width="0.6" stroke-opacity="0.6"/>
<line x1="932.5" y1="447.5" x2="962.7" y2="447.5" stroke="#000" stroke-width="0.6" stroke-opacity="0.6"/>
<line x1="932.5" y1="486.5" x2="962.7" y2="486.5" stroke="#000" stroke-width="0.6" stroke-opacity="0.6"/>
<line x1="932.5" y1="525.5" x2="962.7" y2="525.5" stroke="#000" stroke-width="0.6" stroke-opacity="0.6"/>
<line x1="932.5" y1="564.5" x2="962.7" y2="564.5" stroke="#000" stroke-width="0.6" stroke-opacity="0.6"/>
<rect x="932.5" y="211.0" width="30.2" height="353.6" fill="none" stroke="#000" stroke-opacity="0.7" stroke-width="0.7"/>
<text x="966.0" y="257.2" font-size="13.7" text-anchor="start" fill="#000" stroke="#fff" stroke-width="0.18" textLength="37.5" lengthAdjust="spacingAndGlyphs">1000</text>
<text x="968.5" y="292.9" font-size="13.7" text-anchor="start" fill="#000" stroke="#fff" stroke-width="0.18" textLength="27.5" lengthAdjust="spacingAndGlyphs">500</text>
<text x="968.5" y="332.1" font-size="13.7" text-anchor="start" fill="#000" stroke="#fff" stroke-width="0.18" textLength="27.5" lengthAdjust="spacingAndGlyphs">200</text>
<text x="968.5" y="371.4" font-size="13.7" text-anchor="start" fill="#000" stroke="#fff" stroke-width="0.18" textLength="27.5" lengthAdjust="spacingAndGlyphs">100</text>
<text x="971.0" y="412.5" font-size="13.7" text-anchor="start" fill="#000" stroke="#fff" stroke-width="0.18" textLength="17.5" lengthAdjust="spacingAndGlyphs">50</text>
<text x="967.5" y="452.1" font-size="13.7" text-anchor="start" fill="#000" stroke="#fff" stroke-width="0.18" textLength="18.0" lengthAdjust="spacingAndGlyphs">20</text>
<text x="968.0" y="491.7" font-size="13.7" text-anchor="start" fill="#000" stroke="#fff" stroke-width="0.18" textLength="17.5" lengthAdjust="spacingAndGlyphs">10</text>
<text x="972.0" y="531.7" font-size="13.7" text-anchor="start" fill="#000" stroke="#fff" stroke-width="0.18" textLength="8.5" lengthAdjust="spacingAndGlyphs">3</text>
<text x="1014.5" y="475.0" font-size="16.5" text-anchor="start" fill="#000" stroke="#fff" stroke-width="0.15" textLength="81.5" lengthAdjust="spacingAndGlyphs" transform="rotate(-90 1014.5 475.0)">RESISTIVITY</text>
<text x="1014.0" y="382.5" font-size="17" text-anchor="start" fill="#000" stroke="#fff" stroke-width="0.22" textLength="66.0" lengthAdjust="spacingAndGlyphs" transform="rotate(-90 1014.0 382.5)">(ohm.m)</text>
</svg>
</body></html>
